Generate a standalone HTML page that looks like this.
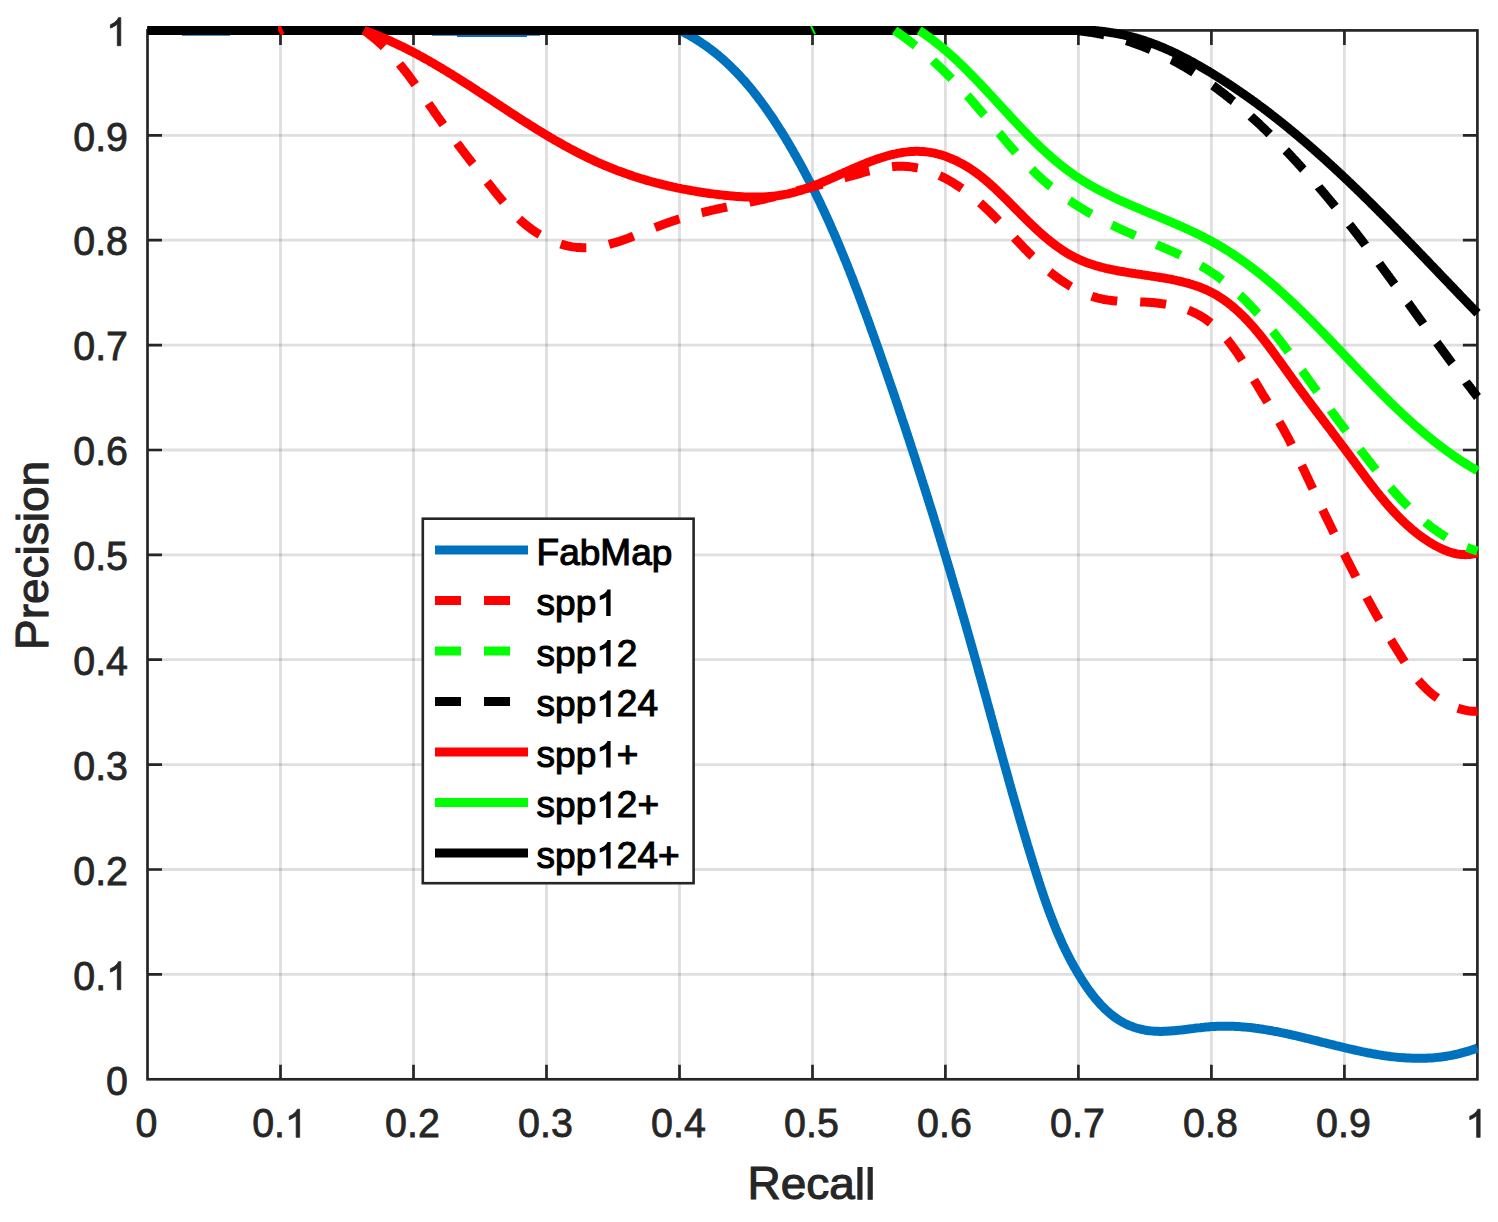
<!DOCTYPE html>
<html><head><meta charset="utf-8"><style>
html,body{margin:0;padding:0;background:#fff;width:1498px;height:1222px;overflow:hidden}
text{font-family:"Liberation Sans",sans-serif}
</style></head><body>
<svg width="1498" height="1222" viewBox="0 0 1498 1222" style="position:absolute;left:0;top:0">
<rect x="0" y="0" width="1498" height="1222" fill="#fff"/>
<path d="M280.5,30.4V1079.3 M413.5,30.4V1079.3 M546.5,30.4V1079.3 M679.5,30.4V1079.3 M812.5,30.4V1079.3 M945.4,30.4V1079.3 M1078.4,30.4V1079.3 M1211.4,30.4V1079.3 M1344.4,30.4V1079.3" stroke="#262626" stroke-opacity="0.15" stroke-width="2.8" fill="none"/>
<path d="M147.5,974.4H1477.4 M147.5,869.5H1477.4 M147.5,764.6H1477.4 M147.5,659.7H1477.4 M147.5,554.9H1477.4 M147.5,450.0H1477.4 M147.5,345.1H1477.4 M147.5,240.2H1477.4 M147.5,135.3H1477.4" stroke="#262626" stroke-opacity="0.15" stroke-width="2.8" fill="none"/>
<path d="M280.5,1079.3v-14.5 M280.5,30.4v14.5 M147.5,974.4h14.5 M1477.4,974.4h-14.5 M413.5,1079.3v-14.5 M413.5,30.4v14.5 M147.5,869.5h14.5 M1477.4,869.5h-14.5 M546.5,1079.3v-14.5 M546.5,30.4v14.5 M147.5,764.6h14.5 M1477.4,764.6h-14.5 M679.5,1079.3v-14.5 M679.5,30.4v14.5 M147.5,659.7h14.5 M1477.4,659.7h-14.5 M812.5,1079.3v-14.5 M812.5,30.4v14.5 M147.5,554.9h14.5 M1477.4,554.9h-14.5 M945.4,1079.3v-14.5 M945.4,30.4v14.5 M147.5,450.0h14.5 M1477.4,450.0h-14.5 M1078.4,1079.3v-14.5 M1078.4,30.4v14.5 M147.5,345.1h14.5 M1477.4,345.1h-14.5 M1211.4,1079.3v-14.5 M1211.4,30.4v14.5 M147.5,240.2h14.5 M1477.4,240.2h-14.5 M1344.4,1079.3v-14.5 M1344.4,30.4v14.5 M147.5,135.3h14.5 M1477.4,135.3h-14.5" stroke="#262626" stroke-width="2.7" fill="none"/>
<rect x="147.5" y="30.4" width="1329.9" height="1048.9" stroke="#262626" stroke-width="2.7" fill="none"/>
<path d="M182,34.7h48v1.1h-48Z M432,34.7h108v1.1h-108Z M457,34.7h70v2.2h-70Z" fill="#0072BD"/>
<path d="M147.5,30.4 L680.0,30.4 L680.0,30.5 L681.7,31.3 L683.3,32.1 L685.0,33.0 L686.6,33.9 L688.3,34.7 L689.9,35.6 L691.5,36.6 L693.1,37.5 L694.7,38.4 L696.2,39.4 L697.8,40.4 L699.3,41.4 L700.9,42.4 L702.4,43.4 L703.9,44.4 L705.4,45.4 L706.9,46.5 L708.3,47.6 L709.8,48.7 L711.3,49.8 L712.7,50.9 L714.1,52.0 L715.6,53.1 L717.0,54.3 L718.4,55.4 L719.8,56.6 L721.2,57.8 L722.5,59.0 L723.9,60.2 L725.2,61.4 L726.6,62.6 L727.9,63.9 L729.2,65.1 L730.5,66.4 L731.9,67.7 L733.1,69.0 L734.4,70.2 L735.7,71.5 L737.0,72.9 L738.2,74.2 L739.5,75.5 L740.7,76.9 L741.9,78.2 L743.2,79.6 L744.4,80.9 L745.6,82.3 L746.8,83.7 L748.0,85.1 L749.2,86.5 L750.3,87.9 L751.5,89.3 L752.7,90.8 L753.8,92.2 L754.9,93.6 L756.1,95.1 L757.2,96.5 L758.3,98.0 L759.4,99.5 L760.5,100.9 L761.6,102.4 L762.7,103.9 L763.8,105.4 L764.9,106.9 L766.0,108.4 L767.0,109.9 L768.1,111.4 L769.1,112.9 L770.2,114.5 L771.2,116.0 L772.3,117.5 L773.3,119.1 L774.3,120.6 L775.3,122.2 L776.3,123.7 L777.3,125.3 L778.3,126.8 L779.3,128.4 L780.3,129.9 L781.3,131.5 L782.3,133.1 L783.2,134.6 L784.2,136.2 L785.2,137.8 L786.1,139.4 L787.1,141.0 L788.0,142.5 L789.0,144.1 L789.9,145.7 L790.8,147.3 L791.8,148.9 L792.7,150.5 L793.6,152.1 L794.5,153.7 L795.4,155.3 L796.3,156.9 L797.2,158.5 L798.1,160.1 L799.0,161.7 L799.9,163.3 L800.8,164.9 L801.7,166.6 L802.5,168.2 L803.4,169.8 L804.3,171.4 L805.1,173.0 L806.0,174.7 L806.8,176.3 L807.7,177.9 L808.5,179.5 L809.4,181.2 L810.2,182.8 L811.1,184.5 L811.9,186.1 L812.7,187.7 L813.5,189.4 L814.3,191.0 L815.2,192.7 L816.0,194.3 L816.8,196.0 L817.6,197.6 L818.4,199.3 L819.2,200.9 L820.0,202.6 L820.8,204.2 L821.5,205.9 L822.3,207.5 L823.1,209.2 L823.9,210.9 L824.6,212.5 L825.4,214.2 L826.2,215.9 L826.9,217.5 L827.7,219.2 L828.5,220.9 L829.2,222.6 L830.0,224.2 L830.7,225.9 L831.4,227.6 L832.2,229.3 L832.9,231.0 L833.7,232.6 L834.4,234.3 L835.1,236.0 L835.8,237.7 L836.6,239.4 L837.3,241.1 L838.0,242.8 L838.7,244.4 L839.4,246.1 L840.1,247.8 L840.8,249.5 L841.5,251.2 L842.2,252.9 L842.9,254.6 L843.6,256.3 L844.3,258.0 L845.0,259.7 L845.7,261.4 L846.4,263.1 L847.1,264.8 L847.7,266.5 L848.4,268.2 L849.1,269.9 L849.8,271.7 L850.4,273.4 L851.1,275.1 L851.8,276.8 L852.5,278.5 L853.1,280.2 L853.8,281.9 L854.4,283.6 L855.1,285.4 L855.7,287.1 L856.4,288.8 L857.1,290.5 L857.7,292.2 L858.4,293.9 L859.0,295.7 L859.6,297.4 L860.3,299.1 L860.9,300.8 L861.6,302.6 L862.2,304.3 L862.8,306.0 L863.5,307.7 L864.1,309.5 L864.7,311.2 L865.4,312.9 L866.0,314.6 L866.6,316.4 L867.3,318.1 L867.9,319.8 L868.5,321.5 L869.1,323.3 L869.8,325.0 L870.4,326.7 L871.0,328.5 L871.6,330.2 L872.2,331.9 L872.9,333.7 L873.5,335.4 L874.1,337.1 L874.7,338.9 L875.3,340.6 L875.9,342.3 L876.5,344.1 L877.2,345.8 L877.8,347.5 L878.4,349.3 L879.0,351.0 L879.6,352.7 L880.2,354.5 L880.8,356.2 L881.4,357.9 L882.0,359.7 L882.6,361.4 L883.2,363.2 L883.8,364.9 L884.4,366.6 L885.0,368.4 L885.6,370.1 L886.2,371.8 L886.8,373.6 L887.4,375.3 L888.0,377.0 L888.6,378.8 L889.2,380.5 L889.8,382.3 L890.4,384.0 L891.0,385.7 L891.6,387.5 L892.2,389.2 L892.8,391.0 L893.4,392.7 L894.0,394.4 L894.6,396.2 L895.1,397.9 L895.7,399.7 L896.3,401.4 L896.9,403.1 L897.5,404.9 L898.1,406.6 L898.7,408.4 L899.2,410.1 L899.8,411.9 L900.4,413.6 L901.0,415.3 L901.6,417.1 L902.1,418.8 L902.7,420.6 L903.3,422.3 L903.9,424.1 L904.5,425.8 L905.0,427.6 L905.6,429.3 L906.2,431.0 L906.8,432.8 L907.3,434.5 L907.9,436.3 L908.5,438.0 L909.1,439.8 L909.6,441.5 L910.2,443.3 L910.8,445.0 L911.3,446.8 L911.9,448.5 L912.5,450.3 L913.0,452.0 L913.6,453.8 L914.2,455.5 L914.7,457.2 L915.3,459.0 L915.9,460.7 L916.4,462.5 L917.0,464.2 L917.6,466.0 L918.1,467.7 L918.7,469.5 L919.2,471.2 L919.8,473.0 L920.4,474.7 L920.9,476.5 L921.5,478.2 L922.0,480.0 L922.6,481.7 L923.1,483.5 L923.7,485.2 L924.2,487.0 L924.8,488.8 L925.3,490.5 L925.9,492.3 L926.4,494.0 L927.0,495.8 L927.5,497.5 L928.1,499.3 L928.6,501.0 L929.2,502.8 L929.7,504.5 L930.3,506.3 L930.8,508.0 L931.4,509.8 L931.9,511.5 L932.5,513.3 L933.0,515.1 L933.6,516.8 L934.1,518.6 L934.6,520.3 L935.2,522.1 L935.7,523.8 L936.3,525.6 L936.8,527.3 L937.3,529.1 L937.9,530.9 L938.4,532.6 L938.9,534.4 L939.5,536.1 L940.0,537.9 L940.5,539.7 L941.1,541.4 L941.6,543.2 L942.1,544.9 L942.7,546.7 L943.2,548.4 L943.7,550.2 L944.3,552.0 L944.8,553.7 L945.3,555.5 L945.9,557.2 L946.4,559.0 L946.9,560.8 L947.4,562.5 L948.0,564.3 L948.5,566.0 L949.0,567.8 L949.5,569.6 L950.1,571.3 L950.6,573.1 L951.1,574.8 L951.6,576.6 L952.1,578.4 L952.7,580.1 L953.2,581.9 L953.7,583.7 L954.2,585.4 L954.7,587.2 L955.3,588.9 L955.8,590.7 L956.3,592.5 L956.8,594.2 L957.3,596.0 L957.8,597.8 L958.4,599.5 L958.9,601.3 L959.4,603.1 L959.9,604.8 L960.4,606.6 L960.9,608.4 L961.4,610.1 L961.9,611.9 L962.4,613.7 L963.0,615.4 L963.5,617.2 L964.0,619.0 L964.5,620.7 L965.0,622.5 L965.5,624.3 L966.0,626.0 L966.5,627.8 L967.0,629.6 L967.5,631.3 L968.0,633.1 L968.5,634.9 L969.0,636.6 L969.5,638.4 L970.0,640.2 L970.5,641.9 L971.0,643.7 L971.5,645.5 L972.0,647.2 L972.5,649.0 L973.0,650.8 L973.5,652.5 L974.0,654.3 L974.5,656.1 L975.0,657.9 L975.5,659.6 L976.0,661.4 L976.5,663.2 L977.0,664.9 L977.5,666.7 L978.0,668.5 L978.4,670.2 L978.9,672.0 L979.4,673.8 L979.9,675.6 L980.4,677.3 L980.9,679.1 L981.4,680.9 L981.9,682.7 L982.4,684.4 L982.9,686.2 L983.3,688.0 L983.8,689.7 L984.3,691.5 L984.8,693.3 L985.3,695.1 L985.8,696.8 L986.3,698.6 L986.8,700.4 L987.2,702.1 L987.7,703.9 L988.2,705.7 L988.7,707.5 L989.2,709.2 L989.7,711.0 L990.2,712.8 L990.6,714.6 L991.1,716.3 L991.6,718.1 L992.1,719.9 L992.6,721.6 L993.1,723.4 L993.6,725.2 L994.0,727.0 L994.5,728.7 L995.0,730.5 L995.5,732.3 L996.0,734.1 L996.5,735.8 L997.0,737.6 L997.5,739.4 L997.9,741.1 L998.4,742.9 L998.9,744.7 L999.4,746.5 L999.9,748.2 L1000.4,750.0 L1000.9,751.8 L1001.4,753.5 L1001.8,755.3 L1002.3,757.1 L1002.8,758.8 L1003.3,760.6 L1003.8,762.4 L1004.3,764.2 L1004.8,765.9 L1005.3,767.7 L1005.8,769.5 L1006.3,771.2 L1006.8,773.0 L1007.3,774.8 L1007.8,776.5 L1008.2,778.3 L1008.7,780.1 L1009.2,781.8 L1009.7,783.6 L1010.2,785.4 L1010.7,787.1 L1011.2,788.9 L1011.7,790.7 L1012.2,792.4 L1012.7,794.2 L1013.2,796.0 L1013.7,797.7 L1014.2,799.5 L1014.7,801.3 L1015.2,803.0 L1015.8,804.8 L1016.3,806.6 L1016.8,808.3 L1017.3,810.1 L1017.8,811.8 L1018.3,813.6 L1018.8,815.4 L1019.3,817.1 L1019.8,818.9 L1020.3,820.7 L1020.9,822.4 L1021.4,824.2 L1021.9,825.9 L1022.4,827.7 L1022.9,829.5 L1023.4,831.2 L1024.0,833.0 L1024.5,834.7 L1025.0,836.5 L1025.5,838.2 L1026.1,840.0 L1026.6,841.8 L1027.1,843.5 L1027.6,845.3 L1028.2,847.0 L1028.7,848.8 L1029.2,850.5 L1029.8,852.3 L1030.3,854.0 L1030.8,855.8 L1031.4,857.5 L1031.9,859.3 L1032.4,861.0 L1033.0,862.8 L1033.5,864.5 L1034.1,866.3 L1034.6,868.0 L1035.2,869.8 L1035.7,871.5 L1036.3,873.3 L1036.8,875.0 L1037.4,876.8 L1037.9,878.5 L1038.5,880.2 L1039.0,882.0 L1039.6,883.7 L1040.2,885.5 L1040.7,887.2 L1041.3,888.9 L1041.9,890.7 L1042.5,892.4 L1043.1,894.2 L1043.6,895.9 L1044.2,897.6 L1044.8,899.4 L1045.4,901.1 L1046.0,902.8 L1046.6,904.5 L1047.3,906.3 L1047.9,908.0 L1048.5,909.7 L1049.1,911.4 L1049.8,913.2 L1050.4,914.9 L1051.1,916.6 L1051.7,918.3 L1052.4,920.0 L1053.1,921.7 L1053.7,923.4 L1054.4,925.1 L1055.1,926.9 L1055.8,928.6 L1056.5,930.3 L1057.2,932.0 L1057.9,933.7 L1058.7,935.3 L1059.4,937.0 L1060.2,938.7 L1060.9,940.4 L1061.7,942.1 L1062.4,943.8 L1063.2,945.5 L1064.0,947.1 L1064.8,948.8 L1065.6,950.5 L1066.5,952.2 L1067.3,953.8 L1068.1,955.5 L1069.0,957.2 L1069.8,958.8 L1070.7,960.5 L1071.6,962.1 L1072.5,963.8 L1073.4,965.4 L1074.3,967.1 L1075.3,968.7 L1076.2,970.3 L1077.2,972.0 L1078.1,973.6 L1079.1,975.2 L1080.1,976.8 L1081.1,978.5 L1082.1,980.1 L1083.2,981.7 L1084.2,983.3 L1085.3,984.9 L1086.3,986.4 L1087.4,988.0 L1088.5,989.6 L1089.6,991.1 L1090.8,992.6 L1091.9,994.2 L1093.1,995.6 L1094.2,997.1 L1095.4,998.6 L1096.6,1000.0 L1097.9,1001.4 L1099.1,1002.8 L1100.3,1004.2 L1101.6,1005.6 L1102.9,1006.9 L1104.2,1008.2 L1105.5,1009.5 L1106.8,1010.7 L1108.2,1011.9 L1109.6,1013.1 L1110.9,1014.3 L1112.3,1015.4 L1113.8,1016.5 L1115.2,1017.5 L1116.6,1018.5 L1118.1,1019.5 L1119.6,1020.5 L1121.1,1021.4 L1122.6,1022.2 L1124.2,1023.1 L1125.7,1023.9 L1127.3,1024.6 L1128.9,1025.3 L1130.5,1026.0 L1132.2,1026.6 L1133.8,1027.2 L1135.5,1027.7 L1137.1,1028.2 L1138.8,1028.7 L1140.5,1029.1 L1142.2,1029.5 L1143.9,1029.9 L1145.7,1030.2 L1147.4,1030.5 L1149.1,1030.7 L1150.9,1030.9 L1152.7,1031.1 L1154.4,1031.2 L1156.2,1031.3 L1158.0,1031.3 L1159.8,1031.4 L1161.6,1031.4 L1163.4,1031.3 L1165.2,1031.3 L1167.0,1031.2 L1168.9,1031.1 L1170.7,1031.0 L1172.5,1030.8 L1174.4,1030.7 L1176.2,1030.5 L1178.1,1030.3 L1179.9,1030.1 L1181.8,1029.9 L1183.6,1029.7 L1185.5,1029.5 L1187.3,1029.3 L1189.2,1029.0 L1191.1,1028.8 L1192.9,1028.6 L1194.8,1028.3 L1196.7,1028.1 L1198.5,1027.9 L1200.4,1027.7 L1202.3,1027.4 L1204.1,1027.3 L1206.0,1027.1 L1207.9,1026.9 L1209.7,1026.7 L1211.6,1026.6 L1213.4,1026.5 L1215.3,1026.4 L1217.2,1026.3 L1219.0,1026.2 L1220.9,1026.2 L1222.7,1026.2 L1224.6,1026.2 L1226.4,1026.2 L1228.2,1026.2 L1230.1,1026.2 L1231.9,1026.3 L1233.8,1026.3 L1235.6,1026.4 L1237.4,1026.5 L1239.3,1026.6 L1241.1,1026.8 L1242.9,1026.9 L1244.8,1027.1 L1246.6,1027.2 L1248.4,1027.4 L1250.3,1027.6 L1252.1,1027.8 L1253.9,1028.0 L1255.7,1028.3 L1257.6,1028.5 L1259.4,1028.8 L1261.2,1029.0 L1263.0,1029.3 L1264.8,1029.6 L1266.6,1029.9 L1268.5,1030.2 L1270.3,1030.5 L1272.1,1030.8 L1273.9,1031.2 L1275.7,1031.5 L1277.5,1031.8 L1279.3,1032.2 L1281.1,1032.6 L1282.9,1032.9 L1284.7,1033.3 L1286.5,1033.7 L1288.3,1034.1 L1290.1,1034.5 L1291.9,1034.9 L1293.7,1035.3 L1295.5,1035.7 L1297.3,1036.1 L1299.1,1036.5 L1300.9,1037.0 L1302.7,1037.4 L1304.5,1037.8 L1306.3,1038.3 L1308.1,1038.7 L1309.9,1039.1 L1311.7,1039.6 L1313.5,1040.0 L1315.3,1040.5 L1317.1,1040.9 L1318.9,1041.4 L1320.6,1041.8 L1322.4,1042.3 L1324.2,1042.7 L1326.0,1043.1 L1327.8,1043.6 L1329.6,1044.0 L1331.4,1044.5 L1333.2,1044.9 L1335.0,1045.4 L1336.7,1045.8 L1338.5,1046.2 L1340.3,1046.7 L1342.1,1047.1 L1343.9,1047.5 L1345.7,1048.0 L1347.5,1048.4 L1349.2,1048.8 L1351.0,1049.2 L1352.8,1049.6 L1354.6,1050.0 L1356.4,1050.4 L1358.2,1050.8 L1360.0,1051.2 L1361.8,1051.6 L1363.5,1051.9 L1365.3,1052.3 L1367.1,1052.7 L1368.9,1053.0 L1370.7,1053.3 L1372.5,1053.7 L1374.3,1054.0 L1376.1,1054.3 L1377.8,1054.6 L1379.6,1054.9 L1381.4,1055.2 L1383.2,1055.5 L1385.0,1055.7 L1386.8,1056.0 L1388.6,1056.2 L1390.4,1056.5 L1392.2,1056.7 L1394.0,1056.9 L1395.8,1057.1 L1397.6,1057.3 L1399.3,1057.4 L1401.1,1057.6 L1402.9,1057.7 L1404.7,1057.8 L1406.5,1058.0 L1408.3,1058.1 L1410.1,1058.1 L1411.9,1058.2 L1413.7,1058.3 L1415.5,1058.3 L1417.3,1058.3 L1419.1,1058.3 L1420.9,1058.3 L1422.8,1058.3 L1424.6,1058.2 L1426.4,1058.2 L1428.2,1058.1 L1430.0,1058.0 L1431.8,1057.9 L1433.6,1057.8 L1435.4,1057.6 L1437.2,1057.4 L1439.1,1057.2 L1440.9,1057.0 L1442.7,1056.8 L1444.5,1056.5 L1446.3,1056.2 L1448.2,1055.9 L1450.0,1055.6 L1451.8,1055.3 L1453.6,1054.9 L1455.5,1054.5 L1457.3,1054.1 L1459.1,1053.7 L1460.9,1053.2 L1462.8,1052.7 L1464.6,1052.2 L1466.5,1051.7 L1468.3,1051.2 L1470.1,1050.6 L1472.0,1050.0 L1473.8,1049.3 L1475.7,1048.7 L1477.5,1048.0" stroke="#0072BD" stroke-width="9" fill="none" stroke-linejoin="round"/>
<path d="M147.5,30.4 L1040.0,30.4 L1040.0,30.4 L1040.8,30.4 L1041.5,30.4 L1042.3,30.4 L1043.1,30.4 L1043.9,30.4 L1044.7,30.4 L1045.4,30.4 L1046.2,30.4 L1047.0,30.4 L1047.8,30.4 L1048.5,30.4 L1049.3,30.4 L1050.1,30.4 L1050.9,30.4 L1051.6,30.4 L1052.4,30.4 L1053.2,30.4 L1054.0,30.4 L1054.7,30.4 L1055.5,30.4 L1056.3,30.4 L1057.0,30.4 L1057.8,30.4 L1058.6,30.4 L1059.3,30.4 L1060.1,30.4 L1060.9,30.4 L1061.6,30.4 L1062.4,30.4 L1063.1,30.4 L1063.9,30.4 L1064.7,30.4 L1065.4,30.4 L1066.2,30.4 L1066.9,30.4 L1067.7,30.4 L1068.5,30.4 L1069.2,30.4 L1070.0,30.4 L1070.7,30.4 L1071.5,30.4 L1072.2,30.4 L1073.0,30.4 L1073.7,30.4 L1074.5,30.5 L1075.2,30.5 L1076.0,30.6 L1076.7,30.7 L1077.5,30.7 L1078.2,30.8 L1079.0,30.9 L1079.7,31.0 L1080.5,31.0 L1081.2,31.1 L1082.0,31.2 L1082.7,31.3 L1083.4,31.4 L1084.2,31.5 L1084.9,31.6 L1085.7,31.7 L1086.4,31.7 L1087.2,31.8 L1087.9,32.0 L1088.6,32.1 L1089.4,32.2 L1090.1,32.3 L1090.8,32.4 L1091.6,32.5 L1092.3,32.6 L1093.0,32.7 L1093.8,32.9 L1094.5,33.0 L1095.2,33.1 L1096.0,33.2 L1096.7,33.4 L1097.4,33.5 L1098.2,33.6 L1098.9,33.8 L1099.6,33.9 L1100.3,34.0 L1101.1,34.2 L1101.8,34.3 L1102.5,34.5 L1103.2,34.6 L1104.0,34.8 L1104.7,34.9 L1105.4,35.1 L1106.1,35.2 L1106.8,35.4 L1107.6,35.6 L1108.3,35.7 L1109.0,35.9 L1109.7,36.1 L1110.4,36.2 L1111.1,36.4 L1111.8,36.6 L1112.6,36.8 L1113.3,37.0 L1114.0,37.1 L1114.7,37.3 L1115.4,37.5 L1116.1,37.7 L1116.8,37.9 L1117.5,38.1 L1118.2,38.3 L1118.9,38.5 L1119.7,38.7 L1120.4,38.9 L1121.1,39.1 L1121.8,39.3 L1122.5,39.5 L1123.2,39.7 L1123.9,39.9 L1124.6,40.1 L1125.3,40.3 L1126.0,40.6 L1126.7,40.8 L1127.4,41.0 L1128.1,41.2 L1128.8,41.5 L1129.5,41.7 L1130.2,41.9 L1130.8,42.1 L1131.5,42.4 L1132.2,42.6 L1132.9,42.9 L1133.6,43.1 L1134.3,43.3 L1135.0,43.6 L1135.7,43.8 L1136.4,44.1 L1137.1,44.3 L1137.7,44.6 L1138.4,44.8 L1139.1,45.1 L1139.8,45.3 L1140.5,45.6 L1141.2,45.9 L1141.8,46.1 L1142.5,46.4 L1143.2,46.7 L1143.9,46.9 L1144.6,47.2 L1145.2,47.5 L1145.9,47.7 L1146.6,48.0 L1147.3,48.3 L1147.9,48.6 L1148.6,48.9 L1149.3,49.1 L1150.0,49.4 L1150.6,49.7 L1151.3,50.0 L1152.0,50.3 L1152.7,50.6 L1153.3,50.9 L1154.0,51.2 L1154.7,51.5 L1155.3,51.8 L1156.0,52.1 L1156.7,52.4 L1157.3,52.7 L1158.0,53.0 L1158.6,53.3 L1159.3,53.6 L1160.0,53.9 L1160.6,54.2 L1161.3,54.5 L1161.9,54.8 L1162.6,55.2 L1163.3,55.5 L1163.9,55.8 L1164.6,56.1 L1165.2,56.5 L1165.9,56.8 L1166.5,57.1 L1167.2,57.4 L1167.9,57.8 L1168.5,58.1 L1169.2,58.4 L1169.8,58.8 L1170.5,59.1 L1171.1,59.5 L1171.8,59.8 L1172.4,60.1 L1173.0,60.5 L1173.7,60.8 L1174.3,61.2 L1175.0,61.5 L1175.6,61.9 L1176.3,62.2 L1176.9,62.6 L1177.6,62.9 L1178.2,63.3 L1178.8,63.7 L1179.5,64.0 L1180.1,64.4 L1180.8,64.7 L1181.4,65.1 L1182.0,65.5 L1182.7,65.8 L1183.3,66.2 L1183.9,66.6 L1184.6,66.9 L1185.2,67.3 L1185.8,67.7 L1186.5,68.1 L1187.1,68.5 L1187.7,68.8 L1188.4,69.2 L1189.0,69.6 L1189.6,70.0 L1190.2,70.4 L1190.9,70.8 L1191.5,71.1 L1192.1,71.5 L1192.7,71.9 L1193.4,72.3 L1194.0,72.7 L1194.6,73.1 L1195.2,73.5 L1195.9,73.9 L1196.5,74.3 L1197.1,74.7 L1197.7,75.1 L1198.3,75.5 L1198.9,75.9 L1199.6,76.3 L1200.2,76.7 L1200.8,77.1 L1201.4,77.5 L1202.0,78.0 L1202.6,78.4 L1203.3,78.8 L1203.9,79.2 L1204.5,79.6 L1205.1,80.0 L1205.7,80.5 L1206.3,80.9 L1206.9,81.3 L1207.5,81.7 L1208.1,82.1 L1208.7,82.6 L1209.3,83.0 L1210.0,83.4 L1210.6,83.9 L1211.2,84.3 L1211.8,84.7 L1212.4,85.2 L1213.0,85.6 L1213.6,86.0 L1214.2,86.5 L1214.8,86.9 L1215.4,87.3 L1216.0,87.8 L1216.6,88.2 L1217.2,88.7 L1217.8,89.1 L1218.4,89.6 L1219.0,90.0 L1219.5,90.5 L1220.1,90.9 L1220.7,91.4 L1221.3,91.8 L1221.9,92.3 L1222.5,92.7 L1223.1,93.2 L1223.7,93.6 L1224.3,94.1 L1224.9,94.5 L1225.5,95.0 L1226.0,95.5 L1226.6,95.9 L1227.2,96.4 L1227.8,96.8 L1228.4,97.3 L1229.0,97.8 L1229.6,98.2 L1230.1,98.7 L1230.7,99.2 L1231.3,99.6 L1231.9,100.1 L1232.5,100.6 L1233.0,101.1 L1233.6,101.5 L1234.2,102.0 L1234.8,102.5 L1235.4,103.0 L1235.9,103.4 L1236.5,103.9 L1237.1,104.4 L1237.7,104.9 L1238.2,105.4 L1238.8,105.8 L1239.4,106.3 L1239.9,106.8 L1240.5,107.3 L1241.1,107.8 L1241.7,108.3 L1242.2,108.8 L1242.8,109.3 L1243.4,109.7 L1243.9,110.2 L1244.5,110.7 L1245.1,111.2 L1245.6,111.7 L1246.2,112.2 L1246.8,112.7 L1247.3,113.2 L1247.9,113.7 L1248.4,114.2 L1249.0,114.7 L1249.6,115.2 L1250.1,115.7 L1250.7,116.2 L1251.2,116.7 L1251.8,117.2 L1252.4,117.7 L1252.9,118.2 L1253.5,118.7 L1254.0,119.2 L1254.6,119.7 L1255.1,120.3 L1255.7,120.8 L1256.3,121.3 L1256.8,121.8 L1257.4,122.3 L1257.9,122.8 L1258.5,123.3 L1259.0,123.8 L1259.6,124.4 L1260.1,124.9 L1260.7,125.4 L1261.2,125.9 L1261.8,126.4 L1262.3,126.9 L1262.8,127.5 L1263.4,128.0 L1263.9,128.5 L1264.5,129.0 L1265.0,129.5 L1265.6,130.1 L1266.1,130.6 L1266.7,131.1 L1267.2,131.6 L1267.7,132.2 L1268.3,132.7 L1268.8,133.2 L1269.4,133.8 L1269.9,134.3 L1270.4,134.8 L1271.0,135.3 L1271.5,135.9 L1272.0,136.4 L1272.6,136.9 L1273.1,137.5 L1273.6,138.0 L1274.2,138.5 L1274.7,139.1 L1275.2,139.6 L1275.8,140.1 L1276.3,140.7 L1276.8,141.2 L1277.4,141.7 L1277.9,142.3 L1278.4,142.8 L1279.0,143.4 L1279.5,143.9 L1280.0,144.4 L1280.5,145.0 L1281.1,145.5 L1281.6,146.1 L1282.1,146.6 L1282.6,147.1 L1283.2,147.7 L1283.7,148.2 L1284.2,148.8 L1284.7,149.3 L1285.3,149.9 L1285.8,150.4 L1286.3,150.9 L1286.8,151.5 L1287.3,152.0 L1287.8,152.6 L1288.4,153.1 L1288.9,153.7 L1289.4,154.2 L1289.9,154.8 L1290.4,155.3 L1290.9,155.9 L1291.5,156.4 L1292.0,157.0 L1292.5,157.5 L1293.0,158.1 L1293.5,158.6 L1294.0,159.2 L1294.5,159.7 L1295.1,160.3 L1295.6,160.8 L1296.1,161.4 L1296.6,161.9 L1297.1,162.5 L1297.6,163.1 L1298.1,163.6 L1298.6,164.2 L1299.1,164.7 L1299.6,165.3 L1300.1,165.8 L1300.6,166.4 L1301.1,166.9 L1301.6,167.5 L1302.1,168.1 L1302.6,168.6 L1303.1,169.2 L1303.6,169.7 L1304.1,170.3 L1304.7,170.9 L1305.2,171.4 L1305.6,172.0 L1306.1,172.5 L1306.6,173.1 L1307.1,173.7 L1307.6,174.2 L1308.1,174.8 L1308.6,175.3 L1309.1,175.9 L1309.6,176.5 L1310.1,177.0 L1310.6,177.6 L1311.1,178.2 L1311.6,178.7 L1312.1,179.3 L1312.6,179.8 L1313.1,180.4 L1313.6,181.0 L1314.1,181.5 L1314.6,182.1 L1315.0,182.7 L1315.5,183.2 L1316.0,183.8 L1316.5,184.4 L1317.0,184.9 L1317.5,185.5 L1318.0,186.1 L1318.5,186.6 L1318.9,187.2 L1319.4,187.8 L1319.9,188.4 L1320.4,188.9 L1320.9,189.5 L1321.4,190.1 L1321.9,190.6 L1322.3,191.2 L1322.8,191.8 L1323.3,192.4 L1323.8,192.9 L1324.3,193.5 L1324.8,194.1 L1325.2,194.6 L1325.7,195.2 L1326.2,195.8 L1326.7,196.4 L1327.2,196.9 L1327.6,197.5 L1328.1,198.1 L1328.6,198.7 L1329.1,199.2 L1329.5,199.8 L1330.0,200.4 L1330.5,201.0 L1331.0,201.5 L1331.4,202.1 L1331.9,202.7 L1332.4,203.3 L1332.9,203.8 L1333.3,204.4 L1333.8,205.0 L1334.3,205.6 L1334.8,206.2 L1335.2,206.7 L1335.7,207.3 L1336.2,207.9 L1336.6,208.5 L1337.1,209.1 L1337.6,209.6 L1338.1,210.2 L1338.5,210.8 L1339.0,211.4 L1339.5,212.0 L1339.9,212.5 L1340.4,213.1 L1340.9,213.7 L1341.3,214.3 L1341.8,214.9 L1342.3,215.4 L1342.7,216.0 L1343.2,216.6 L1343.7,217.2 L1344.1,217.8 L1344.6,218.4 L1345.1,218.9 L1345.5,219.5 L1346.0,220.1 L1346.5,220.7 L1346.9,221.3 L1347.4,221.9 L1347.8,222.5 L1348.3,223.0 L1348.8,223.6 L1349.2,224.2 L1349.7,224.8 L1350.1,225.4 L1350.6,226.0 L1351.1,226.6 L1351.5,227.1 L1352.0,227.7 L1352.4,228.3 L1352.9,228.9 L1353.4,229.5 L1353.8,230.1 L1354.3,230.7 L1354.7,231.3 L1355.2,231.8 L1355.7,232.4 L1356.1,233.0 L1356.6,233.6 L1357.0,234.2 L1357.5,234.8 L1357.9,235.4 L1358.4,236.0 L1358.8,236.6 L1359.3,237.1 L1359.8,237.7 L1360.2,238.3 L1360.7,238.9 L1361.1,239.5 L1361.6,240.1 L1362.0,240.7 L1362.5,241.3 L1362.9,241.9 L1363.4,242.5 L1363.8,243.1 L1364.3,243.7 L1364.7,244.2 L1365.2,244.8 L1365.6,245.4 L1366.1,246.0 L1366.5,246.6 L1367.0,247.2 L1367.4,247.8 L1367.9,248.4 L1368.3,249.0 L1368.8,249.6 L1369.2,250.2 L1369.7,250.8 L1370.1,251.4 L1370.6,252.0 L1371.0,252.6 L1371.5,253.2 L1371.9,253.7 L1372.4,254.3 L1372.8,254.9 L1373.3,255.5 L1373.7,256.1 L1374.2,256.7 L1374.6,257.3 L1375.1,257.9 L1375.5,258.5 L1376.0,259.1 L1376.4,259.7 L1376.8,260.3 L1377.3,260.9 L1377.7,261.5 L1378.2,262.1 L1378.6,262.7 L1379.1,263.3 L1379.5,263.9 L1380.0,264.5 L1380.4,265.1 L1380.9,265.7 L1381.3,266.3 L1381.7,266.9 L1382.2,267.5 L1382.6,268.1 L1383.1,268.7 L1383.5,269.3 L1384.0,269.9 L1384.4,270.5 L1384.8,271.1 L1385.3,271.7 L1385.7,272.3 L1386.2,272.9 L1386.6,273.5 L1387.1,274.1 L1387.5,274.7 L1387.9,275.3 L1388.4,275.9 L1388.8,276.5 L1389.3,277.1 L1389.7,277.7 L1390.1,278.3 L1390.6,278.9 L1391.0,279.5 L1391.5,280.1 L1391.9,280.7 L1392.3,281.3 L1392.8,281.9 L1393.2,282.5 L1393.7,283.1 L1394.1,283.7 L1394.5,284.3 L1395.0,284.9 L1395.4,285.5 L1395.9,286.1 L1396.3,286.7 L1396.7,287.3 L1397.2,287.9 L1397.6,288.5 L1398.1,289.1 L1398.5,289.7 L1398.9,290.3 L1399.4,290.9 L1399.8,291.5 L1400.2,292.1 L1400.7,292.7 L1401.1,293.3 L1401.6,293.9 L1402.0,294.5 L1402.4,295.1 L1402.9,295.7 L1403.3,296.3 L1403.7,296.9 L1404.2,297.5 L1404.6,298.1 L1405.1,298.7 L1405.5,299.3 L1405.9,299.9 L1406.4,300.5 L1406.8,301.1 L1407.2,301.7 L1407.7,302.3 L1408.1,302.9 L1408.6,303.5 L1409.0,304.1 L1409.4,304.7 L1409.9,305.3 L1410.3,305.9 L1410.7,306.5 L1411.2,307.1 L1411.6,307.7 L1412.1,308.3 L1412.5,308.9 L1412.9,309.5 L1413.4,310.1 L1413.8,310.7 L1414.2,311.3 L1414.7,311.9 L1415.1,312.6 L1415.5,313.2 L1416.0,313.8 L1416.4,314.4 L1416.9,315.0 L1417.3,315.6 L1417.7,316.2 L1418.2,316.8 L1418.6,317.4 L1419.0,318.0 L1419.5,318.6 L1419.9,319.2 L1420.3,319.8 L1420.8,320.4 L1421.2,321.0 L1421.7,321.6 L1422.1,322.2 L1422.5,322.8 L1423.0,323.4 L1423.4,324.0 L1423.8,324.6 L1424.3,325.2 L1424.7,325.8 L1425.2,326.4 L1425.6,327.0 L1426.0,327.6 L1426.5,328.2 L1426.9,328.8 L1427.3,329.4 L1427.8,330.0 L1428.2,330.6 L1428.6,331.2 L1429.1,331.8 L1429.5,332.4 L1430.0,333.0 L1430.4,333.6 L1430.8,334.2 L1431.3,334.9 L1431.7,335.5 L1432.1,336.1 L1432.6,336.7 L1433.0,337.3 L1433.5,337.9 L1433.9,338.5 L1434.3,339.1 L1434.8,339.7 L1435.2,340.3 L1435.6,340.9 L1436.1,341.5 L1436.5,342.1 L1437.0,342.7 L1437.4,343.3 L1437.8,343.9 L1438.3,344.5 L1438.7,345.1 L1439.2,345.7 L1439.6,346.3 L1440.0,346.9 L1440.5,347.5 L1440.9,348.1 L1441.4,348.7 L1441.8,349.3 L1442.2,349.9 L1442.7,350.5 L1443.1,351.1 L1443.6,351.7 L1444.0,352.3 L1444.4,352.9 L1444.9,353.5 L1445.3,354.1 L1445.8,354.7 L1446.2,355.3 L1446.6,355.9 L1447.1,356.5 L1447.5,357.1 L1448.0,357.7 L1448.4,358.3 L1448.8,358.9 L1449.3,359.5 L1449.7,360.1 L1450.2,360.7 L1450.6,361.3 L1451.1,361.9 L1451.5,362.5 L1451.9,363.1 L1452.4,363.7 L1452.8,364.3 L1453.3,364.9 L1453.7,365.5 L1454.2,366.1 L1454.6,366.7 L1455.0,367.3 L1455.5,367.9 L1455.9,368.5 L1456.4,369.1 L1456.8,369.7 L1457.3,370.3 L1457.7,370.9 L1458.2,371.5 L1458.6,372.1 L1459.0,372.7 L1459.5,373.2 L1459.9,373.8 L1460.4,374.4 L1460.8,375.0 L1461.3,375.6 L1461.7,376.2 L1462.2,376.8 L1462.6,377.4 L1463.1,378.0 L1463.5,378.6 L1464.0,379.2 L1464.4,379.8 L1464.9,380.4 L1465.3,381.0 L1465.8,381.6 L1466.2,382.2 L1466.6,382.8 L1467.1,383.4 L1467.5,384.0 L1468.0,384.6 L1468.4,385.2 L1468.9,385.7 L1469.3,386.3 L1469.8,386.9 L1470.3,387.5 L1470.7,388.1 L1471.2,388.7 L1471.6,389.3 L1472.1,389.9 L1472.5,390.5 L1473.0,391.1 L1473.4,391.7 L1473.9,392.3 L1474.3,392.9 L1474.8,393.5 L1475.2,394.0 L1475.7,394.6 L1476.1,395.2 L1476.6,395.8 L1477.0,396.4 L1477.5,397.0" stroke="#000000" stroke-width="9" fill="none" stroke-linejoin="round" stroke-dasharray="26 23"/>
<path d="M147.5,30.4 L1050.0,30.4 L1050.0,30.4 L1050.7,30.4 L1051.3,30.4 L1052.0,30.4 L1052.6,30.4 L1053.3,30.4 L1054.0,30.4 L1054.6,30.4 L1055.3,30.4 L1056.0,30.4 L1056.6,30.4 L1057.3,30.4 L1058.0,30.4 L1058.6,30.4 L1059.3,30.4 L1059.9,30.4 L1060.6,30.4 L1061.3,30.4 L1061.9,30.4 L1062.6,30.4 L1063.3,30.4 L1063.9,30.4 L1064.6,30.4 L1065.3,30.4 L1065.9,30.4 L1066.6,30.4 L1067.3,30.4 L1067.9,30.4 L1068.6,30.4 L1069.3,30.4 L1069.9,30.4 L1070.6,30.4 L1071.3,30.4 L1071.9,30.4 L1072.6,30.4 L1073.3,30.4 L1073.9,30.4 L1074.6,30.4 L1075.3,30.4 L1075.9,30.4 L1076.6,30.4 L1077.3,30.4 L1077.9,30.4 L1078.6,30.4 L1079.3,30.4 L1079.9,30.4 L1080.6,30.4 L1081.3,30.4 L1082.0,30.4 L1082.6,30.4 L1083.3,30.4 L1084.0,30.4 L1084.6,30.4 L1085.3,30.4 L1085.9,30.4 L1086.6,30.4 L1087.3,30.4 L1087.9,30.4 L1088.6,30.4 L1089.3,30.4 L1089.9,30.4 L1090.6,30.4 L1091.3,30.4 L1091.9,30.4 L1092.6,30.4 L1093.3,30.5 L1093.9,30.5 L1094.6,30.6 L1095.3,30.6 L1095.9,30.7 L1096.6,30.8 L1097.3,30.8 L1097.9,30.9 L1098.6,31.0 L1099.2,31.0 L1099.9,31.1 L1100.6,31.2 L1101.2,31.2 L1101.9,31.3 L1102.5,31.4 L1103.2,31.5 L1103.9,31.6 L1104.5,31.6 L1105.2,31.7 L1105.8,31.8 L1106.5,31.9 L1107.2,32.0 L1107.8,32.1 L1108.5,32.2 L1109.1,32.3 L1109.8,32.4 L1110.4,32.5 L1111.1,32.6 L1111.8,32.7 L1112.4,32.8 L1113.1,32.9 L1113.7,33.0 L1114.4,33.1 L1115.0,33.2 L1115.7,33.4 L1116.3,33.5 L1117.0,33.6 L1117.6,33.7 L1118.3,33.8 L1118.9,34.0 L1119.6,34.1 L1120.2,34.2 L1120.9,34.3 L1121.5,34.5 L1122.2,34.6 L1122.8,34.8 L1123.5,34.9 L1124.1,35.0 L1124.8,35.2 L1125.4,35.3 L1126.1,35.5 L1126.7,35.6 L1127.3,35.8 L1128.0,35.9 L1128.6,36.1 L1129.3,36.2 L1129.9,36.4 L1130.6,36.6 L1131.2,36.7 L1131.8,36.9 L1132.5,37.1 L1133.1,37.2 L1133.7,37.4 L1134.4,37.6 L1135.0,37.8 L1135.6,37.9 L1136.3,38.1 L1136.9,38.3 L1137.5,38.5 L1138.2,38.7 L1138.8,38.9 L1139.4,39.0 L1140.1,39.2 L1140.7,39.4 L1141.3,39.6 L1142.0,39.8 L1142.6,40.0 L1143.2,40.2 L1143.8,40.4 L1144.5,40.6 L1145.1,40.8 L1145.7,41.1 L1146.3,41.3 L1147.0,41.5 L1147.6,41.7 L1148.2,41.9 L1148.8,42.1 L1149.4,42.4 L1150.1,42.6 L1150.7,42.8 L1151.3,43.0 L1151.9,43.2 L1152.5,43.5 L1153.2,43.7 L1153.8,43.9 L1154.4,44.2 L1155.0,44.4 L1155.6,44.6 L1156.2,44.9 L1156.9,45.1 L1157.5,45.4 L1158.1,45.6 L1158.7,45.9 L1159.3,46.1 L1159.9,46.4 L1160.5,46.6 L1161.1,46.9 L1161.7,47.1 L1162.4,47.4 L1163.0,47.6 L1163.6,47.9 L1164.2,48.1 L1164.8,48.4 L1165.4,48.7 L1166.0,48.9 L1166.6,49.2 L1167.2,49.5 L1167.8,49.7 L1168.4,50.0 L1169.0,50.3 L1169.6,50.5 L1170.2,50.8 L1170.8,51.1 L1171.4,51.4 L1172.0,51.6 L1172.6,51.9 L1173.2,52.2 L1173.8,52.5 L1174.4,52.8 L1175.0,53.0 L1175.6,53.3 L1176.2,53.6 L1176.8,53.9 L1177.4,54.2 L1178.0,54.5 L1178.6,54.8 L1179.2,55.1 L1179.8,55.4 L1180.3,55.7 L1180.9,56.0 L1181.5,56.3 L1182.1,56.6 L1182.7,56.9 L1183.3,57.2 L1183.9,57.5 L1184.5,57.8 L1185.1,58.1 L1185.7,58.4 L1186.2,58.7 L1186.8,59.0 L1187.4,59.3 L1188.0,59.6 L1188.6,59.9 L1189.2,60.2 L1189.8,60.6 L1190.3,60.9 L1190.9,61.2 L1191.5,61.5 L1192.1,61.8 L1192.7,62.1 L1193.2,62.5 L1193.8,62.8 L1194.4,63.1 L1195.0,63.4 L1195.6,63.8 L1196.1,64.1 L1196.7,64.4 L1197.3,64.7 L1197.9,65.1 L1198.5,65.4 L1199.0,65.7 L1199.6,66.0 L1200.2,66.4 L1200.8,66.7 L1201.3,67.0 L1201.9,67.4 L1202.5,67.7 L1203.0,68.0 L1203.6,68.4 L1204.2,68.7 L1204.8,69.0 L1205.3,69.4 L1205.9,69.7 L1206.5,70.1 L1207.0,70.4 L1207.6,70.7 L1208.2,71.1 L1208.8,71.4 L1209.3,71.8 L1209.9,72.1 L1210.5,72.5 L1211.0,72.8 L1211.6,73.1 L1212.2,73.5 L1212.7,73.8 L1213.3,74.2 L1213.8,74.5 L1214.4,74.9 L1215.0,75.2 L1215.5,75.6 L1216.1,75.9 L1216.7,76.3 L1217.2,76.6 L1217.8,77.0 L1218.3,77.3 L1218.9,77.7 L1219.5,78.0 L1220.0,78.4 L1220.6,78.7 L1221.1,79.1 L1221.7,79.5 L1222.3,79.8 L1222.8,80.2 L1223.4,80.5 L1223.9,80.9 L1224.5,81.3 L1225.0,81.6 L1225.6,82.0 L1226.2,82.3 L1226.7,82.7 L1227.3,83.1 L1227.8,83.4 L1228.4,83.8 L1228.9,84.1 L1229.5,84.5 L1230.0,84.9 L1230.6,85.2 L1231.1,85.6 L1231.7,86.0 L1232.2,86.3 L1232.8,86.7 L1233.3,87.1 L1233.9,87.4 L1234.4,87.8 L1235.0,88.2 L1235.5,88.5 L1236.1,88.9 L1236.6,89.3 L1237.2,89.7 L1237.7,90.0 L1238.3,90.4 L1238.8,90.8 L1239.4,91.2 L1239.9,91.5 L1240.5,91.9 L1241.0,92.3 L1241.5,92.7 L1242.1,93.0 L1242.6,93.4 L1243.2,93.8 L1243.7,94.2 L1244.3,94.5 L1244.8,94.9 L1245.3,95.3 L1245.9,95.7 L1246.4,96.1 L1247.0,96.5 L1247.5,96.8 L1248.0,97.2 L1248.6,97.6 L1249.1,98.0 L1249.7,98.4 L1250.2,98.8 L1250.7,99.1 L1251.3,99.5 L1251.8,99.9 L1252.3,100.3 L1252.9,100.7 L1253.4,101.1 L1253.9,101.5 L1254.5,101.8 L1255.0,102.2 L1255.5,102.6 L1256.1,103.0 L1256.6,103.4 L1257.2,103.8 L1257.7,104.2 L1258.2,104.6 L1258.7,105.0 L1259.3,105.4 L1259.8,105.8 L1260.3,106.2 L1260.9,106.6 L1261.4,106.9 L1261.9,107.3 L1262.5,107.7 L1263.0,108.1 L1263.5,108.5 L1264.0,108.9 L1264.6,109.3 L1265.1,109.7 L1265.6,110.1 L1266.2,110.5 L1266.7,110.9 L1267.2,111.3 L1267.7,111.7 L1268.3,112.1 L1268.8,112.5 L1269.3,112.9 L1269.8,113.3 L1270.4,113.7 L1270.9,114.1 L1271.4,114.6 L1271.9,115.0 L1272.5,115.4 L1273.0,115.8 L1273.5,116.2 L1274.0,116.6 L1274.5,117.0 L1275.1,117.4 L1275.6,117.8 L1276.1,118.2 L1276.6,118.6 L1277.1,119.0 L1277.7,119.4 L1278.2,119.8 L1278.7,120.3 L1279.2,120.7 L1279.7,121.1 L1280.3,121.5 L1280.8,121.9 L1281.3,122.3 L1281.8,122.7 L1282.3,123.1 L1282.8,123.6 L1283.4,124.0 L1283.9,124.4 L1284.4,124.8 L1284.9,125.2 L1285.4,125.6 L1285.9,126.1 L1286.5,126.5 L1287.0,126.9 L1287.5,127.3 L1288.0,127.7 L1288.5,128.1 L1289.0,128.6 L1289.5,129.0 L1290.0,129.4 L1290.6,129.8 L1291.1,130.2 L1291.6,130.7 L1292.1,131.1 L1292.6,131.5 L1293.1,131.9 L1293.6,132.4 L1294.1,132.8 L1294.6,133.2 L1295.1,133.6 L1295.7,134.0 L1296.2,134.5 L1296.7,134.9 L1297.2,135.3 L1297.7,135.8 L1298.2,136.2 L1298.7,136.6 L1299.2,137.0 L1299.7,137.5 L1300.2,137.9 L1300.7,138.3 L1301.2,138.7 L1301.7,139.2 L1302.2,139.6 L1302.7,140.0 L1303.2,140.5 L1303.8,140.9 L1304.3,141.3 L1304.8,141.8 L1305.3,142.2 L1305.8,142.6 L1306.3,143.0 L1306.8,143.5 L1307.3,143.9 L1307.8,144.3 L1308.3,144.8 L1308.8,145.2 L1309.3,145.7 L1309.8,146.1 L1310.3,146.5 L1310.8,147.0 L1311.3,147.4 L1311.8,147.8 L1312.3,148.3 L1312.8,148.7 L1313.3,149.1 L1313.8,149.6 L1314.3,150.0 L1314.8,150.5 L1315.3,150.9 L1315.8,151.3 L1316.3,151.8 L1316.8,152.2 L1317.3,152.7 L1317.8,153.1 L1318.2,153.5 L1318.7,154.0 L1319.2,154.4 L1319.7,154.9 L1320.2,155.3 L1320.7,155.7 L1321.2,156.2 L1321.7,156.6 L1322.2,157.1 L1322.7,157.5 L1323.2,158.0 L1323.7,158.4 L1324.2,158.8 L1324.7,159.3 L1325.2,159.7 L1325.7,160.2 L1326.1,160.6 L1326.6,161.1 L1327.1,161.5 L1327.6,162.0 L1328.1,162.4 L1328.6,162.9 L1329.1,163.3 L1329.6,163.8 L1330.1,164.2 L1330.6,164.7 L1331.1,165.1 L1331.5,165.5 L1332.0,166.0 L1332.5,166.4 L1333.0,166.9 L1333.5,167.3 L1334.0,167.8 L1334.5,168.2 L1335.0,168.7 L1335.5,169.2 L1335.9,169.6 L1336.4,170.1 L1336.9,170.5 L1337.4,171.0 L1337.9,171.4 L1338.4,171.9 L1338.9,172.3 L1339.3,172.8 L1339.8,173.2 L1340.3,173.7 L1340.8,174.1 L1341.3,174.6 L1341.8,175.0 L1342.3,175.5 L1342.7,176.0 L1343.2,176.4 L1343.7,176.9 L1344.2,177.3 L1344.7,177.8 L1345.2,178.2 L1345.6,178.7 L1346.1,179.2 L1346.6,179.6 L1347.1,180.1 L1347.6,180.5 L1348.0,181.0 L1348.5,181.4 L1349.0,181.9 L1349.5,182.4 L1350.0,182.8 L1350.5,183.3 L1350.9,183.7 L1351.4,184.2 L1351.9,184.7 L1352.4,185.1 L1352.9,185.6 L1353.3,186.0 L1353.8,186.5 L1354.3,187.0 L1354.8,187.4 L1355.3,187.9 L1355.7,188.3 L1356.2,188.8 L1356.7,189.3 L1357.2,189.7 L1357.6,190.2 L1358.1,190.7 L1358.6,191.1 L1359.1,191.6 L1359.6,192.0 L1360.0,192.5 L1360.5,193.0 L1361.0,193.4 L1361.5,193.9 L1361.9,194.4 L1362.4,194.8 L1362.9,195.3 L1363.4,195.8 L1363.8,196.2 L1364.3,196.7 L1364.8,197.2 L1365.3,197.6 L1365.7,198.1 L1366.2,198.6 L1366.7,199.0 L1367.2,199.5 L1367.6,200.0 L1368.1,200.4 L1368.6,200.9 L1369.1,201.4 L1369.5,201.8 L1370.0,202.3 L1370.5,202.8 L1370.9,203.2 L1371.4,203.7 L1371.9,204.2 L1372.4,204.6 L1372.8,205.1 L1373.3,205.6 L1373.8,206.0 L1374.3,206.5 L1374.7,207.0 L1375.2,207.5 L1375.7,207.9 L1376.1,208.4 L1376.6,208.9 L1377.1,209.3 L1377.5,209.8 L1378.0,210.3 L1378.5,210.7 L1379.0,211.2 L1379.4,211.7 L1379.9,212.2 L1380.4,212.6 L1380.8,213.1 L1381.3,213.6 L1381.8,214.0 L1382.2,214.5 L1382.7,215.0 L1383.2,215.5 L1383.7,215.9 L1384.1,216.4 L1384.6,216.9 L1385.1,217.4 L1385.5,217.8 L1386.0,218.3 L1386.5,218.8 L1386.9,219.2 L1387.4,219.7 L1387.9,220.2 L1388.3,220.7 L1388.8,221.1 L1389.3,221.6 L1389.7,222.1 L1390.2,222.6 L1390.7,223.0 L1391.1,223.5 L1391.6,224.0 L1392.1,224.5 L1392.5,224.9 L1393.0,225.4 L1393.5,225.9 L1393.9,226.4 L1394.4,226.8 L1394.9,227.3 L1395.3,227.8 L1395.8,228.3 L1396.3,228.7 L1396.7,229.2 L1397.2,229.7 L1397.7,230.2 L1398.1,230.6 L1398.6,231.1 L1399.0,231.6 L1399.5,232.1 L1400.0,232.6 L1400.4,233.0 L1400.9,233.5 L1401.4,234.0 L1401.8,234.5 L1402.3,234.9 L1402.8,235.4 L1403.2,235.9 L1403.7,236.4 L1404.1,236.8 L1404.6,237.3 L1405.1,237.8 L1405.5,238.3 L1406.0,238.8 L1406.5,239.2 L1406.9,239.7 L1407.4,240.2 L1407.8,240.7 L1408.3,241.1 L1408.8,241.6 L1409.2,242.1 L1409.7,242.6 L1410.2,243.1 L1410.6,243.5 L1411.1,244.0 L1411.5,244.5 L1412.0,245.0 L1412.5,245.4 L1412.9,245.9 L1413.4,246.4 L1413.9,246.9 L1414.3,247.4 L1414.8,247.8 L1415.2,248.3 L1415.7,248.8 L1416.2,249.3 L1416.6,249.8 L1417.1,250.2 L1417.5,250.7 L1418.0,251.2 L1418.5,251.7 L1418.9,252.1 L1419.4,252.6 L1419.8,253.1 L1420.3,253.6 L1420.8,254.1 L1421.2,254.5 L1421.7,255.0 L1422.1,255.5 L1422.6,256.0 L1423.1,256.5 L1423.5,256.9 L1424.0,257.4 L1424.4,257.9 L1424.9,258.4 L1425.4,258.9 L1425.8,259.3 L1426.3,259.8 L1426.7,260.3 L1427.2,260.8 L1427.6,261.2 L1428.1,261.7 L1428.6,262.2 L1429.0,262.7 L1429.5,263.2 L1429.9,263.6 L1430.4,264.1 L1430.9,264.6 L1431.3,265.1 L1431.8,265.6 L1432.2,266.0 L1432.7,266.5 L1433.2,267.0 L1433.6,267.5 L1434.1,268.0 L1434.5,268.4 L1435.0,268.9 L1435.4,269.4 L1435.9,269.9 L1436.4,270.4 L1436.8,270.8 L1437.3,271.3 L1437.7,271.8 L1438.2,272.3 L1438.6,272.7 L1439.1,273.2 L1439.6,273.7 L1440.0,274.2 L1440.5,274.7 L1440.9,275.1 L1441.4,275.6 L1441.9,276.1 L1442.3,276.6 L1442.8,277.1 L1443.2,277.5 L1443.7,278.0 L1444.1,278.5 L1444.6,279.0 L1445.1,279.4 L1445.5,279.9 L1446.0,280.4 L1446.4,280.9 L1446.9,281.4 L1447.3,281.8 L1447.8,282.3 L1448.3,282.8 L1448.7,283.3 L1449.2,283.7 L1449.6,284.2 L1450.1,284.7 L1450.5,285.2 L1451.0,285.7 L1451.5,286.1 L1451.9,286.6 L1452.4,287.1 L1452.8,287.6 L1453.3,288.0 L1453.7,288.5 L1454.2,289.0 L1454.7,289.5 L1455.1,290.0 L1455.6,290.4 L1456.0,290.9 L1456.5,291.4 L1456.9,291.9 L1457.4,292.3 L1457.9,292.8 L1458.3,293.3 L1458.8,293.8 L1459.2,294.2 L1459.7,294.7 L1460.1,295.2 L1460.6,295.7 L1461.0,296.1 L1461.5,296.6 L1462.0,297.1 L1462.4,297.6 L1462.9,298.0 L1463.3,298.5 L1463.8,299.0 L1464.2,299.5 L1464.7,299.9 L1465.2,300.4 L1465.6,300.9 L1466.1,301.4 L1466.5,301.8 L1467.0,302.3 L1467.4,302.8 L1467.9,303.3 L1468.4,303.7 L1468.8,304.2 L1469.3,304.7 L1469.7,305.2 L1470.2,305.6 L1470.6,306.1 L1471.1,306.6 L1471.6,307.1 L1472.0,307.5 L1472.5,308.0 L1472.9,308.5 L1473.4,308.9 L1473.8,309.4 L1474.3,309.9 L1474.8,310.4 L1475.2,310.8 L1475.7,311.3 L1476.1,311.8 L1476.6,312.3 L1477.0,312.7 L1477.5,313.2" stroke="#000000" stroke-width="9" fill="none" stroke-linejoin="round"/>
<path d="M364.0,30.4 L364.0,30.4 L365.6,31.5 L367.1,32.6 L368.6,33.8 L370.1,35.0 L371.6,36.1 L373.1,37.3 L374.5,38.5 L376.0,39.7 L377.4,41.0 L378.8,42.2 L380.2,43.5 L381.6,44.8 L382.9,46.0 L384.2,47.3 L385.6,48.6 L386.9,50.0 L388.2,51.3 L389.5,52.6 L390.7,54.0 L392.0,55.3 L393.2,56.7 L394.5,58.1 L395.7,59.5 L396.9,60.9 L398.1,62.3 L399.3,63.7 L400.5,65.2 L401.6,66.6 L402.8,68.0 L403.9,69.5 L405.1,70.9 L406.2,72.4 L407.4,73.9 L408.5,75.3 L409.6,76.8 L410.7,78.3 L411.8,79.8 L412.9,81.3 L414.0,82.8 L415.1,84.3 L416.2,85.8 L417.2,87.3 L418.3,88.8 L419.4,90.4 L420.4,91.9 L421.5,93.4 L422.6,94.9 L423.6,96.5 L424.7,98.0 L425.7,99.5 L426.8,101.0 L427.9,102.6 L428.9,104.1 L430.0,105.6 L431.0,107.2 L432.1,108.7 L433.2,110.2 L434.2,111.8 L435.3,113.3 L436.4,114.8 L437.4,116.3 L438.5,117.8 L439.6,119.4 L440.7,120.9 L441.8,122.4 L442.8,123.9 L443.9,125.4 L445.0,126.9 L446.1,128.4 L447.2,129.9 L448.3,131.4 L449.4,132.9 L450.5,134.4 L451.6,135.9 L452.7,137.4 L453.9,138.9 L455.0,140.4 L456.1,141.9 L457.2,143.4 L458.3,144.9 L459.5,146.4 L460.6,147.8 L461.7,149.3 L462.8,150.8 L464.0,152.3 L465.1,153.8 L466.2,155.2 L467.4,156.7 L468.5,158.2 L469.6,159.6 L470.8,161.1 L471.9,162.6 L473.1,164.1 L474.2,165.5 L475.4,167.0 L476.5,168.4 L477.7,169.9 L478.8,171.4 L480.0,172.8 L481.1,174.3 L482.3,175.7 L483.4,177.2 L484.6,178.6 L485.7,180.1 L486.9,181.5 L488.1,183.0 L489.2,184.4 L490.4,185.9 L491.5,187.3 L492.7,188.8 L493.8,190.2 L495.0,191.7 L496.2,193.1 L497.3,194.6 L498.5,196.0 L499.7,197.4 L500.8,198.9 L502.0,200.3 L503.2,201.7 L504.4,203.1 L505.6,204.5 L506.8,205.9 L508.0,207.3 L509.2,208.7 L510.5,210.1 L511.7,211.5 L513.0,212.8 L514.3,214.1 L515.6,215.5 L516.9,216.8 L518.2,218.1 L519.6,219.4 L521.0,220.6 L522.3,221.9 L523.8,223.1 L525.2,224.3 L526.7,225.5 L528.2,226.7 L529.7,227.8 L531.2,229.0 L532.8,230.1 L534.4,231.2 L536.0,232.2 L537.6,233.2 L539.3,234.3 L540.9,235.2 L542.6,236.2 L544.3,237.1 L546.1,238.0 L547.8,238.8 L549.5,239.7 L551.3,240.5 L553.1,241.2 L554.8,241.9 L556.6,242.6 L558.4,243.2 L560.2,243.8 L562.0,244.4 L563.9,244.9 L565.7,245.4 L567.5,245.9 L569.3,246.2 L571.1,246.6 L573.0,246.9 L574.8,247.1 L576.6,247.4 L578.4,247.5 L580.2,247.6 L582.0,247.7 L583.8,247.7 L585.6,247.7 L587.4,247.7 L589.2,247.6 L591.0,247.5 L592.8,247.3 L594.6,247.1 L596.4,246.9 L598.2,246.6 L600.0,246.3 L601.7,246.0 L603.5,245.6 L605.3,245.2 L607.1,244.8 L608.9,244.4 L610.6,243.9 L612.4,243.4 L614.2,242.9 L616.0,242.4 L617.7,241.8 L619.5,241.3 L621.3,240.7 L623.1,240.1 L624.8,239.4 L626.6,238.8 L628.4,238.2 L630.1,237.5 L631.9,236.8 L633.7,236.1 L635.5,235.5 L637.2,234.8 L639.0,234.0 L640.8,233.3 L642.5,232.6 L644.3,231.9 L646.1,231.2 L647.8,230.5 L649.6,229.8 L651.4,229.1 L653.2,228.3 L654.9,227.6 L656.7,226.9 L658.5,226.2 L660.2,225.6 L662.0,224.9 L663.8,224.2 L665.6,223.6 L667.4,222.9 L669.1,222.3 L670.9,221.7 L672.7,221.1 L674.5,220.5 L676.3,219.9 L678.1,219.3 L679.8,218.8 L681.6,218.2 L683.4,217.7 L685.2,217.1 L687.0,216.6 L688.8,216.1 L690.6,215.6 L692.4,215.1 L694.2,214.7 L696.0,214.2 L697.8,213.7 L699.6,213.3 L701.4,212.8 L703.2,212.4 L705.0,211.9 L706.8,211.5 L708.5,211.1 L710.3,210.7 L712.1,210.2 L713.9,209.8 L715.7,209.4 L717.5,209.0 L719.3,208.6 L721.1,208.2 L722.9,207.9 L724.7,207.5 L726.5,207.1 L728.3,206.7 L730.1,206.3 L731.9,206.0 L733.7,205.6 L735.5,205.2 L737.3,204.8 L739.1,204.4 L740.9,204.1 L742.7,203.7 L744.5,203.3 L746.3,202.9 L748.1,202.6 L749.9,202.2 L751.7,201.8 L753.5,201.4 L755.3,201.0 L757.1,200.6 L758.9,200.3 L760.6,199.9 L762.4,199.5 L764.2,199.1 L766.0,198.6 L767.8,198.2 L769.6,197.8 L771.4,197.4 L773.1,197.0 L774.9,196.5 L776.7,196.1 L778.5,195.7 L780.3,195.2 L782.1,194.8 L783.8,194.4 L785.6,193.9 L787.4,193.5 L789.2,193.0 L791.0,192.5 L792.7,192.1 L794.5,191.6 L796.3,191.2 L798.1,190.7 L799.9,190.2 L801.7,189.7 L803.5,189.3 L805.2,188.8 L807.0,188.3 L808.8,187.8 L810.6,187.3 L812.4,186.8 L814.2,186.4 L816.0,185.9 L817.8,185.4 L819.6,184.9 L821.4,184.4 L823.2,183.9 L825.0,183.4 L826.8,182.9 L828.6,182.4 L830.4,181.8 L832.2,181.3 L834.0,180.8 L835.9,180.3 L837.7,179.8 L839.5,179.3 L841.3,178.8 L843.1,178.2 L845.0,177.7 L846.8,177.2 L848.6,176.7 L850.5,176.2 L852.3,175.6 L854.2,175.1 L856.0,174.6 L857.9,174.1 L859.7,173.6 L861.6,173.0 L863.4,172.5 L865.3,172.0 L867.1,171.5 L869.0,171.0 L870.9,170.6 L872.7,170.1 L874.6,169.7 L876.5,169.2 L878.3,168.8 L880.2,168.4 L882.0,168.1 L883.9,167.8 L885.8,167.4 L887.6,167.2 L889.5,166.9 L891.3,166.7 L893.2,166.5 L895.0,166.4 L896.9,166.3 L898.7,166.2 L900.5,166.2 L902.4,166.2 L904.2,166.3 L906.0,166.4 L907.8,166.5 L909.6,166.7 L911.4,166.9 L913.2,167.2 L915.0,167.5 L916.8,167.9 L918.6,168.2 L920.4,168.7 L922.1,169.1 L923.9,169.6 L925.7,170.1 L927.4,170.7 L929.2,171.3 L930.9,171.9 L932.6,172.5 L934.3,173.2 L936.0,173.9 L937.8,174.7 L939.4,175.5 L941.1,176.3 L942.8,177.1 L944.5,177.9 L946.1,178.8 L947.8,179.7 L949.4,180.6 L951.1,181.6 L952.7,182.5 L954.3,183.5 L955.9,184.6 L957.5,185.6 L959.1,186.6 L960.7,187.7 L962.3,188.8 L963.8,189.9 L965.3,191.0 L966.9,192.2 L968.4,193.3 L969.9,194.5 L971.4,195.7 L972.9,196.9 L974.4,198.1 L975.8,199.3 L977.3,200.5 L978.7,201.7 L980.2,203.0 L981.6,204.2 L983.0,205.5 L984.4,206.8 L985.7,208.1 L987.1,209.3 L988.4,210.6 L989.8,211.9 L991.1,213.2 L992.4,214.5 L993.7,215.8 L995.0,217.1 L996.3,218.4 L997.5,219.7 L998.8,221.0 L1000.1,222.4 L1001.3,223.7 L1002.6,225.0 L1003.8,226.3 L1005.0,227.6 L1006.3,229.0 L1007.5,230.3 L1008.7,231.6 L1010.0,233.0 L1011.2,234.3 L1012.4,235.6 L1013.7,237.0 L1014.9,238.3 L1016.2,239.7 L1017.4,241.0 L1018.7,242.3 L1020.0,243.7 L1021.3,245.0 L1022.5,246.4 L1023.8,247.7 L1025.1,249.1 L1026.5,250.4 L1027.8,251.7 L1029.1,253.1 L1030.5,254.4 L1031.8,255.7 L1033.2,257.0 L1034.6,258.4 L1036.0,259.7 L1037.4,261.0 L1038.8,262.3 L1040.2,263.5 L1041.6,264.8 L1043.0,266.1 L1044.5,267.3 L1045.9,268.6 L1047.4,269.8 L1048.8,271.0 L1050.3,272.2 L1051.8,273.4 L1053.3,274.6 L1054.8,275.7 L1056.3,276.9 L1057.9,278.0 L1059.4,279.1 L1060.9,280.2 L1062.5,281.3 L1064.1,282.3 L1065.6,283.3 L1067.2,284.3 L1068.8,285.3 L1070.4,286.3 L1072.0,287.2 L1073.6,288.1 L1075.3,289.0 L1076.9,289.9 L1078.5,290.7 L1080.2,291.5 L1081.9,292.3 L1083.5,293.0 L1085.2,293.7 L1086.9,294.4 L1088.6,295.1 L1090.3,295.7 L1092.0,296.3 L1093.8,296.9 L1095.5,297.4 L1097.2,297.9 L1099.0,298.3 L1100.8,298.7 L1102.5,299.1 L1104.3,299.5 L1106.1,299.8 L1107.9,300.1 L1109.7,300.3 L1111.5,300.5 L1113.3,300.7 L1115.2,300.9 L1117.0,301.0 L1118.8,301.2 L1120.7,301.3 L1122.5,301.4 L1124.4,301.4 L1126.2,301.5 L1128.1,301.6 L1130.0,301.6 L1131.9,301.7 L1133.8,301.7 L1135.6,301.8 L1137.5,301.8 L1139.4,301.9 L1141.3,302.0 L1143.2,302.0 L1145.1,302.1 L1147.0,302.2 L1148.9,302.3 L1150.9,302.4 L1152.8,302.6 L1154.7,302.8 L1156.6,303.0 L1158.5,303.2 L1160.4,303.4 L1162.3,303.7 L1164.2,303.9 L1166.1,304.2 L1168.0,304.6 L1169.9,304.9 L1171.8,305.3 L1173.6,305.7 L1175.5,306.1 L1177.3,306.6 L1179.2,307.1 L1181.0,307.6 L1182.8,308.2 L1184.5,308.7 L1186.3,309.4 L1188.1,310.0 L1189.8,310.7 L1191.5,311.4 L1193.2,312.1 L1194.9,312.9 L1196.5,313.7 L1198.1,314.6 L1199.7,315.5 L1201.3,316.4 L1202.8,317.3 L1204.3,318.3 L1205.8,319.3 L1207.3,320.4 L1208.8,321.5 L1210.2,322.6 L1211.6,323.7 L1213.0,324.9 L1214.4,326.1 L1215.7,327.3 L1217.0,328.6 L1218.4,329.8 L1219.7,331.1 L1220.9,332.5 L1222.2,333.8 L1223.4,335.2 L1224.6,336.6 L1225.9,338.0 L1227.1,339.4 L1228.2,340.8 L1229.4,342.3 L1230.5,343.8 L1231.7,345.3 L1232.8,346.8 L1233.9,348.3 L1235.0,349.8 L1236.1,351.4 L1237.2,352.9 L1238.3,354.5 L1239.3,356.1 L1240.4,357.7 L1241.4,359.3 L1242.4,360.9 L1243.5,362.5 L1244.5,364.1 L1245.5,365.7 L1246.5,367.4 L1247.5,369.0 L1248.5,370.6 L1249.5,372.3 L1250.5,373.9 L1251.4,375.5 L1252.4,377.2 L1253.4,378.8 L1254.3,380.4 L1255.3,382.1 L1256.3,383.7 L1257.3,385.3 L1258.2,386.9 L1259.2,388.5 L1260.2,390.1 L1261.1,391.7 L1262.1,393.3 L1263.0,394.9 L1264.0,396.4 L1265.0,398.0 L1265.9,399.6 L1266.9,401.2 L1267.8,402.7 L1268.8,404.3 L1269.7,405.9 L1270.7,407.4 L1271.6,409.0 L1272.6,410.5 L1273.5,412.1 L1274.5,413.7 L1275.4,415.2 L1276.3,416.8 L1277.2,418.4 L1278.2,420.0 L1279.1,421.5 L1280.0,423.1 L1280.9,424.7 L1281.8,426.3 L1282.7,427.9 L1283.6,429.5 L1284.5,431.1 L1285.4,432.8 L1286.2,434.4 L1287.1,436.0 L1288.0,437.7 L1288.8,439.3 L1289.7,440.9 L1290.5,442.6 L1291.4,444.3 L1292.2,445.9 L1293.0,447.6 L1293.9,449.3 L1294.7,450.9 L1295.5,452.6 L1296.4,454.3 L1297.2,456.0 L1298.0,457.7 L1298.8,459.4 L1299.6,461.1 L1300.4,462.8 L1301.2,464.5 L1302.0,466.2 L1302.9,467.9 L1303.7,469.5 L1304.5,471.2 L1305.3,472.9 L1306.1,474.6 L1306.9,476.3 L1307.7,478.0 L1308.5,479.7 L1309.3,481.4 L1310.1,483.1 L1310.9,484.8 L1311.7,486.5 L1312.5,488.2 L1313.3,489.9 L1314.1,491.6 L1314.8,493.2 L1315.6,494.9 L1316.4,496.6 L1317.2,498.3 L1318.0,500.0 L1318.8,501.7 L1319.6,503.3 L1320.4,505.0 L1321.2,506.7 L1322.0,508.4 L1322.8,510.1 L1323.6,511.7 L1324.4,513.4 L1325.2,515.1 L1326.0,516.8 L1326.8,518.4 L1327.7,520.1 L1328.5,521.8 L1329.3,523.4 L1330.1,525.1 L1330.9,526.8 L1331.7,528.4 L1332.5,530.1 L1333.3,531.8 L1334.1,533.4 L1334.9,535.1 L1335.7,536.8 L1336.5,538.4 L1337.4,540.1 L1338.2,541.8 L1339.0,543.4 L1339.8,545.1 L1340.6,546.7 L1341.5,548.4 L1342.3,550.0 L1343.1,551.7 L1343.9,553.4 L1344.8,555.0 L1345.6,556.7 L1346.4,558.3 L1347.2,560.0 L1348.1,561.6 L1348.9,563.3 L1349.7,564.9 L1350.6,566.6 L1351.4,568.2 L1352.3,569.9 L1353.1,571.5 L1354.0,573.2 L1354.8,574.8 L1355.7,576.4 L1356.5,578.1 L1357.4,579.7 L1358.2,581.4 L1359.1,583.0 L1360.0,584.6 L1360.8,586.3 L1361.7,587.9 L1362.6,589.6 L1363.4,591.2 L1364.3,592.8 L1365.2,594.5 L1366.1,596.1 L1366.9,597.7 L1367.8,599.4 L1368.7,601.0 L1369.6,602.6 L1370.5,604.3 L1371.4,605.9 L1372.3,607.5 L1373.2,609.1 L1374.1,610.8 L1375.0,612.4 L1375.9,614.0 L1376.8,615.7 L1377.8,617.3 L1378.7,618.9 L1379.6,620.5 L1380.5,622.1 L1381.5,623.8 L1382.4,625.4 L1383.3,627.0 L1384.3,628.6 L1385.2,630.2 L1386.2,631.9 L1387.1,633.5 L1388.1,635.1 L1389.0,636.7 L1390.0,638.3 L1391.0,639.9 L1392.0,641.6 L1392.9,643.2 L1393.9,644.8 L1394.9,646.4 L1395.9,648.0 L1396.9,649.6 L1397.9,651.2 L1398.9,652.8 L1399.9,654.4 L1400.9,656.0 L1401.9,657.6 L1402.9,659.2 L1404.0,660.8 L1405.0,662.4 L1406.1,663.9 L1407.1,665.5 L1408.2,667.0 L1409.3,668.6 L1410.4,670.1 L1411.5,671.6 L1412.6,673.1 L1413.7,674.6 L1414.9,676.1 L1416.0,677.5 L1417.2,678.9 L1418.4,680.4 L1419.6,681.7 L1420.8,683.1 L1422.0,684.5 L1423.3,685.8 L1424.6,687.1 L1425.9,688.4 L1427.2,689.7 L1428.5,690.9 L1429.9,692.1 L1431.2,693.3 L1432.6,694.5 L1434.0,695.6 L1435.5,696.7 L1436.9,697.7 L1438.4,698.8 L1439.9,699.8 L1441.5,700.7 L1443.0,701.7 L1444.6,702.6 L1446.2,703.4 L1447.9,704.3 L1449.5,705.1 L1451.2,705.8 L1452.9,706.5 L1454.7,707.2 L1456.5,707.8 L1458.3,708.4 L1460.1,708.9 L1462.0,709.4 L1463.9,709.9 L1465.8,710.3 L1467.8,710.7 L1469.8,711.0 L1471.8,711.2 L1473.7,711.2 L1475.6,711.2 L1477.5,711.0" stroke="#FF0000" stroke-width="9" fill="none" stroke-linejoin="round" stroke-dasharray="26 23"/>
<path d="M364.0,30.4 L364.0,30.4 L365.6,31.0 L367.1,31.5 L368.7,32.1 L370.2,32.7 L371.8,33.3 L373.3,33.9 L374.9,34.5 L376.4,35.1 L377.9,35.7 L379.5,36.3 L381.0,37.0 L382.5,37.6 L384.0,38.2 L385.5,38.9 L387.0,39.6 L388.6,40.2 L390.1,40.9 L391.6,41.6 L393.1,42.3 L394.6,43.0 L396.0,43.7 L397.5,44.4 L399.0,45.1 L400.5,45.8 L402.0,46.5 L403.5,47.2 L404.9,48.0 L406.4,48.7 L407.9,49.5 L409.3,50.2 L410.8,51.0 L412.3,51.7 L413.7,52.5 L415.2,53.3 L416.6,54.0 L418.1,54.8 L419.5,55.6 L421.0,56.4 L422.4,57.2 L423.9,58.0 L425.3,58.8 L426.7,59.6 L428.2,60.4 L429.6,61.2 L431.0,62.1 L432.5,62.9 L433.9,63.7 L435.3,64.6 L436.7,65.4 L438.2,66.2 L439.6,67.1 L441.0,67.9 L442.4,68.8 L443.8,69.6 L445.3,70.5 L446.7,71.3 L448.1,72.2 L449.5,73.1 L450.9,73.9 L452.3,74.8 L453.7,75.7 L455.1,76.6 L456.5,77.4 L457.9,78.3 L459.3,79.2 L460.7,80.1 L462.1,81.0 L463.5,81.9 L464.9,82.8 L466.3,83.6 L467.7,84.5 L469.1,85.4 L470.5,86.3 L471.9,87.2 L473.3,88.1 L474.6,89.0 L476.0,89.9 L477.4,90.8 L478.8,91.8 L480.2,92.7 L481.6,93.6 L483.0,94.5 L484.4,95.4 L485.8,96.3 L487.1,97.2 L488.5,98.1 L489.9,99.0 L491.3,99.9 L492.7,100.9 L494.1,101.8 L495.5,102.7 L496.8,103.6 L498.2,104.5 L499.6,105.4 L501.0,106.3 L502.4,107.2 L503.8,108.1 L505.2,109.0 L506.5,110.0 L507.9,110.9 L509.3,111.8 L510.7,112.7 L512.1,113.6 L513.5,114.5 L514.9,115.4 L516.3,116.3 L517.7,117.2 L519.0,118.1 L520.4,119.0 L521.8,119.9 L523.2,120.8 L524.6,121.7 L526.0,122.5 L527.4,123.4 L528.8,124.3 L530.2,125.2 L531.6,126.1 L533.0,126.9 L534.4,127.8 L535.8,128.7 L537.2,129.6 L538.6,130.4 L540.0,131.3 L541.5,132.2 L542.9,133.0 L544.3,133.9 L545.7,134.7 L547.1,135.6 L548.5,136.4 L550.0,137.3 L551.4,138.1 L552.8,138.9 L554.2,139.8 L555.6,140.6 L557.1,141.4 L558.5,142.2 L559.9,143.0 L561.4,143.8 L562.8,144.7 L564.2,145.5 L565.7,146.3 L567.1,147.0 L568.6,147.8 L570.0,148.6 L571.5,149.4 L572.9,150.2 L574.4,150.9 L575.8,151.7 L577.3,152.5 L578.8,153.2 L580.2,154.0 L581.7,154.7 L583.2,155.4 L584.6,156.2 L586.1,156.9 L587.6,157.6 L589.1,158.3 L590.6,159.0 L592.1,159.7 L593.5,160.4 L595.0,161.1 L596.5,161.8 L598.0,162.5 L599.5,163.2 L601.1,163.8 L602.6,164.5 L604.1,165.1 L605.6,165.8 L607.1,166.4 L608.6,167.0 L610.2,167.7 L611.7,168.3 L613.2,168.9 L614.8,169.5 L616.3,170.1 L617.8,170.7 L619.4,171.2 L620.9,171.8 L622.5,172.4 L624.1,172.9 L625.6,173.5 L627.2,174.0 L628.7,174.6 L630.3,175.1 L631.9,175.6 L633.4,176.2 L635.0,176.7 L636.6,177.2 L638.2,177.7 L639.8,178.2 L641.3,178.7 L642.9,179.2 L644.5,179.6 L646.1,180.1 L647.7,180.6 L649.3,181.0 L650.9,181.5 L652.5,181.9 L654.1,182.3 L655.7,182.8 L657.3,183.2 L658.9,183.6 L660.6,184.0 L662.2,184.4 L663.8,184.8 L665.4,185.2 L667.0,185.6 L668.7,186.0 L670.3,186.3 L671.9,186.7 L673.5,187.1 L675.2,187.4 L676.8,187.8 L678.4,188.1 L680.1,188.4 L681.7,188.8 L683.3,189.1 L685.0,189.4 L686.6,189.7 L688.2,190.0 L689.9,190.3 L691.5,190.6 L693.2,190.9 L694.8,191.2 L696.5,191.5 L698.1,191.7 L699.8,192.0 L701.4,192.3 L703.1,192.5 L704.7,192.8 L706.4,193.0 L708.0,193.2 L709.7,193.5 L711.3,193.7 L713.0,193.9 L714.6,194.1 L716.3,194.3 L718.0,194.5 L719.6,194.7 L721.3,194.9 L722.9,195.1 L724.6,195.3 L726.2,195.5 L727.9,195.6 L729.6,195.8 L731.2,196.0 L732.9,196.1 L734.5,196.2 L736.2,196.4 L737.9,196.5 L739.5,196.6 L741.2,196.7 L742.8,196.8 L744.5,196.9 L746.1,197.0 L747.8,197.0 L749.4,197.1 L751.1,197.1 L752.7,197.1 L754.4,197.1 L756.0,197.1 L757.7,197.1 L759.3,197.1 L760.9,197.1 L762.6,197.0 L764.2,196.9 L765.8,196.8 L767.4,196.7 L769.1,196.6 L770.7,196.5 L772.3,196.3 L773.9,196.2 L775.5,196.0 L777.1,195.8 L778.7,195.5 L780.3,195.3 L781.9,195.0 L783.5,194.7 L785.1,194.4 L786.7,194.1 L788.3,193.8 L789.8,193.4 L791.4,193.0 L793.0,192.6 L794.5,192.2 L796.1,191.8 L797.7,191.3 L799.2,190.8 L800.8,190.4 L802.3,189.9 L803.9,189.3 L805.4,188.8 L807.0,188.3 L808.5,187.7 L810.0,187.2 L811.6,186.6 L813.1,186.0 L814.6,185.4 L816.2,184.8 L817.7,184.2 L819.2,183.6 L820.8,182.9 L822.3,182.3 L823.8,181.6 L825.3,181.0 L826.9,180.3 L828.4,179.7 L829.9,179.0 L831.5,178.3 L833.0,177.6 L834.5,177.0 L836.0,176.3 L837.6,175.6 L839.1,174.9 L840.6,174.2 L842.2,173.5 L843.7,172.8 L845.2,172.1 L846.8,171.5 L848.3,170.8 L849.8,170.1 L851.4,169.4 L852.9,168.7 L854.5,168.0 L856.0,167.4 L857.6,166.7 L859.1,166.1 L860.7,165.4 L862.3,164.8 L863.8,164.1 L865.4,163.5 L867.0,162.9 L868.5,162.2 L870.1,161.6 L871.7,161.0 L873.3,160.5 L874.9,159.9 L876.5,159.3 L878.1,158.8 L879.7,158.2 L881.3,157.7 L882.9,157.2 L884.5,156.7 L886.1,156.2 L887.7,155.8 L889.3,155.3 L890.9,154.9 L892.6,154.5 L894.2,154.1 L895.8,153.8 L897.4,153.4 L899.1,153.1 L900.7,152.8 L902.3,152.5 L903.9,152.3 L905.6,152.1 L907.2,151.9 L908.8,151.7 L910.4,151.6 L912.0,151.5 L913.7,151.4 L915.3,151.3 L916.9,151.3 L918.5,151.3 L920.1,151.4 L921.7,151.5 L923.3,151.6 L924.9,151.7 L926.6,151.9 L928.1,152.1 L929.7,152.3 L931.3,152.6 L932.9,152.9 L934.5,153.2 L936.1,153.6 L937.7,154.0 L939.2,154.4 L940.8,154.8 L942.3,155.3 L943.9,155.8 L945.4,156.3 L947.0,156.9 L948.5,157.5 L950.0,158.1 L951.5,158.7 L953.0,159.4 L954.5,160.0 L956.0,160.7 L957.5,161.4 L959.0,162.2 L960.4,162.9 L961.9,163.7 L963.3,164.5 L964.8,165.3 L966.2,166.2 L967.6,167.0 L969.0,167.9 L970.4,168.8 L971.8,169.7 L973.1,170.6 L974.5,171.6 L975.8,172.5 L977.1,173.5 L978.5,174.5 L979.8,175.5 L981.1,176.5 L982.4,177.6 L983.7,178.6 L984.9,179.6 L986.2,180.7 L987.5,181.8 L988.7,182.9 L990.0,184.0 L991.2,185.1 L992.4,186.2 L993.7,187.3 L994.9,188.4 L996.1,189.6 L997.3,190.7 L998.5,191.9 L999.7,193.1 L1000.9,194.2 L1002.1,195.4 L1003.3,196.6 L1004.5,197.7 L1005.7,198.9 L1006.9,200.1 L1008.1,201.3 L1009.3,202.5 L1010.5,203.7 L1011.7,204.9 L1012.9,206.1 L1014.0,207.3 L1015.2,208.5 L1016.4,209.7 L1017.6,210.9 L1018.8,212.1 L1020.0,213.3 L1021.2,214.5 L1022.4,215.7 L1023.6,216.9 L1024.8,218.1 L1026.0,219.3 L1027.2,220.5 L1028.4,221.6 L1029.6,222.8 L1030.8,224.0 L1032.0,225.1 L1033.2,226.3 L1034.4,227.4 L1035.7,228.6 L1036.9,229.7 L1038.1,230.9 L1039.3,232.0 L1040.6,233.1 L1041.8,234.2 L1043.1,235.3 L1044.3,236.4 L1045.6,237.4 L1046.8,238.5 L1048.1,239.5 L1049.4,240.6 L1050.7,241.6 L1052.0,242.6 L1053.3,243.6 L1054.6,244.6 L1055.9,245.6 L1057.2,246.5 L1058.5,247.5 L1059.9,248.4 L1061.2,249.3 L1062.5,250.2 L1063.9,251.1 L1065.3,252.0 L1066.6,252.8 L1068.0,253.7 L1069.4,254.5 L1070.8,255.3 L1072.2,256.0 L1073.7,256.8 L1075.1,257.5 L1076.5,258.2 L1078.0,258.9 L1079.4,259.6 L1080.9,260.3 L1082.4,260.9 L1083.9,261.5 L1085.4,262.1 L1086.9,262.7 L1088.4,263.2 L1090.0,263.8 L1091.5,264.3 L1093.1,264.8 L1094.6,265.3 L1096.2,265.7 L1097.8,266.2 L1099.3,266.6 L1100.9,267.1 L1102.5,267.5 L1104.1,267.9 L1105.7,268.3 L1107.3,268.6 L1109.0,269.0 L1110.6,269.3 L1112.2,269.7 L1113.9,270.0 L1115.5,270.3 L1117.1,270.7 L1118.8,271.0 L1120.4,271.3 L1122.1,271.5 L1123.8,271.8 L1125.4,272.1 L1127.1,272.4 L1128.7,272.7 L1130.4,272.9 L1132.1,273.2 L1133.8,273.4 L1135.4,273.7 L1137.1,273.9 L1138.8,274.2 L1140.5,274.4 L1142.1,274.7 L1143.8,274.9 L1145.5,275.2 L1147.2,275.4 L1148.8,275.7 L1150.5,275.9 L1152.2,276.2 L1153.9,276.4 L1155.5,276.7 L1157.2,276.9 L1158.9,277.2 L1160.5,277.5 L1162.2,277.7 L1163.8,278.0 L1165.5,278.3 L1167.1,278.6 L1168.8,278.9 L1170.4,279.2 L1172.0,279.5 L1173.7,279.9 L1175.3,280.2 L1176.9,280.6 L1178.5,280.9 L1180.1,281.3 L1181.7,281.7 L1183.3,282.1 L1184.9,282.5 L1186.5,282.9 L1188.1,283.3 L1189.6,283.8 L1191.2,284.2 L1192.7,284.7 L1194.3,285.2 L1195.8,285.7 L1197.3,286.3 L1198.9,286.8 L1200.4,287.4 L1201.9,288.0 L1203.3,288.6 L1204.8,289.2 L1206.3,289.8 L1207.7,290.5 L1209.2,291.2 L1210.6,291.9 L1212.0,292.6 L1213.4,293.4 L1214.8,294.1 L1216.2,294.9 L1217.6,295.8 L1218.9,296.6 L1220.3,297.5 L1221.6,298.3 L1223.0,299.2 L1224.3,300.1 L1225.6,301.1 L1226.9,302.0 L1228.2,303.0 L1229.4,304.0 L1230.7,305.0 L1232.0,306.0 L1233.2,307.1 L1234.5,308.1 L1235.7,309.2 L1236.9,310.3 L1238.1,311.4 L1239.3,312.5 L1240.5,313.6 L1241.7,314.8 L1242.9,315.9 L1244.1,317.1 L1245.2,318.3 L1246.4,319.5 L1247.5,320.7 L1248.7,321.9 L1249.8,323.2 L1250.9,324.4 L1252.1,325.7 L1253.2,326.9 L1254.3,328.2 L1255.4,329.5 L1256.5,330.8 L1257.6,332.1 L1258.7,333.4 L1259.7,334.7 L1260.8,336.0 L1261.9,337.3 L1262.9,338.7 L1264.0,340.0 L1265.0,341.4 L1266.1,342.7 L1267.1,344.1 L1268.2,345.4 L1269.2,346.8 L1270.2,348.2 L1271.3,349.6 L1272.3,350.9 L1273.3,352.3 L1274.3,353.7 L1275.3,355.1 L1276.3,356.5 L1277.3,357.9 L1278.3,359.2 L1279.3,360.6 L1280.3,362.0 L1281.3,363.4 L1282.3,364.8 L1283.3,366.2 L1284.3,367.6 L1285.3,369.0 L1286.3,370.3 L1287.2,371.7 L1288.2,373.1 L1289.2,374.5 L1290.2,375.8 L1291.2,377.2 L1292.1,378.5 L1293.1,379.9 L1294.1,381.3 L1295.1,382.6 L1296.0,383.9 L1297.0,385.3 L1298.0,386.6 L1299.0,387.9 L1299.9,389.3 L1300.9,390.6 L1301.9,391.9 L1302.9,393.2 L1303.8,394.5 L1304.8,395.8 L1305.8,397.1 L1306.7,398.5 L1307.7,399.8 L1308.7,401.1 L1309.7,402.3 L1310.6,403.6 L1311.6,404.9 L1312.6,406.2 L1313.5,407.5 L1314.5,408.8 L1315.5,410.1 L1316.4,411.4 L1317.4,412.7 L1318.4,413.9 L1319.3,415.2 L1320.3,416.5 L1321.3,417.8 L1322.3,419.1 L1323.2,420.4 L1324.2,421.6 L1325.2,422.9 L1326.1,424.2 L1327.1,425.5 L1328.1,426.8 L1329.1,428.0 L1330.0,429.3 L1331.0,430.6 L1332.0,431.9 L1332.9,433.2 L1333.9,434.5 L1334.9,435.8 L1335.9,437.1 L1336.8,438.4 L1337.8,439.7 L1338.8,440.9 L1339.8,442.3 L1340.7,443.6 L1341.7,444.9 L1342.7,446.2 L1343.7,447.5 L1344.7,448.8 L1345.6,450.1 L1346.6,451.4 L1347.6,452.8 L1348.6,454.1 L1349.6,455.4 L1350.5,456.8 L1351.5,458.1 L1352.5,459.4 L1353.5,460.8 L1354.5,462.1 L1355.5,463.5 L1356.5,464.8 L1357.5,466.2 L1358.5,467.5 L1359.5,468.9 L1360.5,470.3 L1361.5,471.6 L1362.5,473.0 L1363.5,474.3 L1364.5,475.7 L1365.5,477.1 L1366.5,478.4 L1367.5,479.8 L1368.5,481.1 L1369.6,482.5 L1370.6,483.8 L1371.6,485.2 L1372.7,486.5 L1373.7,487.8 L1374.7,489.2 L1375.8,490.5 L1376.8,491.9 L1377.9,493.2 L1379.0,494.5 L1380.0,495.8 L1381.1,497.1 L1382.2,498.4 L1383.3,499.7 L1384.3,501.0 L1385.4,502.3 L1386.5,503.6 L1387.6,504.9 L1388.7,506.1 L1389.8,507.4 L1391.0,508.7 L1392.1,509.9 L1393.2,511.1 L1394.4,512.4 L1395.5,513.6 L1396.7,514.8 L1397.8,516.0 L1399.0,517.2 L1400.1,518.4 L1401.3,519.5 L1402.5,520.7 L1403.7,521.9 L1404.9,523.0 L1406.1,524.1 L1407.3,525.2 L1408.6,526.3 L1409.8,527.4 L1411.0,528.5 L1412.3,529.6 L1413.5,530.6 L1414.8,531.6 L1416.1,532.7 L1417.4,533.7 L1418.7,534.7 L1420.0,535.7 L1421.3,536.6 L1422.6,537.6 L1423.9,538.5 L1425.3,539.4 L1426.6,540.3 L1428.0,541.2 L1429.3,542.1 L1430.7,542.9 L1432.1,543.8 L1433.5,544.6 L1434.9,545.4 L1436.3,546.1 L1437.8,546.9 L1439.2,547.6 L1440.7,548.4 L1442.1,549.0 L1443.6,549.7 L1445.1,550.3 L1446.6,550.9 L1448.1,551.5 L1449.6,552.0 L1451.2,552.5 L1452.7,552.9 L1454.3,553.3 L1455.8,553.7 L1457.4,554.0 L1459.0,554.2 L1460.6,554.4 L1462.3,554.5 L1463.9,554.6 L1465.6,554.7 L1467.2,554.6 L1468.9,554.5 L1470.6,554.4 L1472.3,554.1 L1474.0,553.8 L1475.8,553.5 L1477.5,553.0" stroke="#FF0000" stroke-width="9" fill="none" stroke-linejoin="round"/>
<path d="M894.6,30.4 L894.6,30.4 L895.4,31.0 L896.3,31.5 L897.1,32.1 L897.9,32.7 L898.7,33.3 L899.6,33.8 L900.4,34.4 L901.2,35.0 L902.0,35.6 L902.8,36.2 L903.6,36.7 L904.4,37.3 L905.2,37.9 L906.0,38.5 L906.8,39.1 L907.6,39.7 L908.4,40.3 L909.2,40.9 L910.0,41.5 L910.8,42.1 L911.6,42.7 L912.4,43.4 L913.2,44.0 L914.0,44.6 L914.7,45.2 L915.5,45.8 L916.3,46.4 L917.1,47.1 L917.8,47.7 L918.6,48.3 L919.4,49.0 L920.1,49.6 L920.9,50.2 L921.7,50.9 L922.4,51.5 L923.2,52.1 L923.9,52.8 L924.7,53.4 L925.4,54.1 L926.2,54.7 L926.9,55.4 L927.7,56.0 L928.4,56.7 L929.2,57.3 L929.9,58.0 L930.7,58.6 L931.4,59.3 L932.1,60.0 L932.9,60.6 L933.6,61.3 L934.3,62.0 L935.1,62.6 L935.8,63.3 L936.5,64.0 L937.2,64.6 L938.0,65.3 L938.7,66.0 L939.4,66.7 L940.1,67.4 L940.8,68.0 L941.5,68.7 L942.3,69.4 L943.0,70.1 L943.7,70.8 L944.4,71.5 L945.1,72.2 L945.8,72.9 L946.5,73.6 L947.2,74.3 L947.9,75.0 L948.6,75.7 L949.3,76.4 L950.0,77.1 L950.7,77.8 L951.4,78.5 L952.1,79.2 L952.8,79.9 L953.5,80.6 L954.1,81.4 L954.8,82.1 L955.5,82.8 L956.2,83.5 L956.9,84.2 L957.6,84.9 L958.2,85.7 L958.9,86.4 L959.6,87.1 L960.3,87.8 L961.0,88.6 L961.6,89.3 L962.3,90.0 L963.0,90.8 L963.7,91.5 L964.3,92.2 L965.0,93.0 L965.7,93.7 L966.3,94.5 L967.0,95.2 L967.7,95.9 L968.3,96.7 L969.0,97.4 L969.7,98.2 L970.3,98.9 L971.0,99.7 L971.6,100.4 L972.3,101.2 L972.9,101.9 L973.6,102.7 L974.3,103.4 L974.9,104.2 L975.6,105.0 L976.2,105.7 L976.9,106.5 L977.5,107.2 L978.2,108.0 L978.8,108.8 L979.5,109.5 L980.1,110.3 L980.8,111.1 L981.4,111.8 L982.1,112.6 L982.7,113.4 L983.4,114.1 L984.0,114.9 L984.7,115.7 L985.3,116.4 L985.9,117.2 L986.6,118.0 L987.2,118.7 L987.9,119.5 L988.5,120.3 L989.2,121.1 L989.8,121.8 L990.4,122.6 L991.1,123.4 L991.7,124.2 L992.4,124.9 L993.0,125.7 L993.7,126.5 L994.3,127.3 L994.9,128.0 L995.6,128.8 L996.2,129.6 L996.9,130.3 L997.5,131.1 L998.2,131.9 L998.8,132.7 L999.5,133.4 L1000.1,134.2 L1000.7,135.0 L1001.4,135.7 L1002.0,136.5 L1002.7,137.3 L1003.3,138.1 L1004.0,138.8 L1004.6,139.6 L1005.3,140.4 L1005.9,141.1 L1006.6,141.9 L1007.2,142.6 L1007.9,143.4 L1008.5,144.2 L1009.2,144.9 L1009.8,145.7 L1010.5,146.5 L1011.2,147.2 L1011.8,148.0 L1012.5,148.7 L1013.1,149.5 L1013.8,150.2 L1014.5,151.0 L1015.1,151.7 L1015.8,152.5 L1016.4,153.2 L1017.1,154.0 L1017.8,154.7 L1018.4,155.4 L1019.1,156.2 L1019.8,156.9 L1020.5,157.6 L1021.1,158.4 L1021.8,159.1 L1022.5,159.8 L1023.2,160.6 L1023.9,161.3 L1024.5,162.0 L1025.2,162.7 L1025.9,163.5 L1026.6,164.2 L1027.3,164.9 L1028.0,165.6 L1028.7,166.3 L1029.4,167.0 L1030.1,167.7 L1030.8,168.4 L1031.5,169.1 L1032.2,169.8 L1032.9,170.5 L1033.6,171.2 L1034.3,171.9 L1035.0,172.6 L1035.7,173.3 L1036.4,174.0 L1037.1,174.6 L1037.9,175.3 L1038.6,176.0 L1039.3,176.6 L1040.0,177.3 L1040.8,178.0 L1041.5,178.6 L1042.2,179.3 L1042.9,179.9 L1043.7,180.6 L1044.4,181.2 L1045.2,181.9 L1045.9,182.5 L1046.7,183.2 L1047.4,183.8 L1048.2,184.4 L1048.9,185.1 L1049.7,185.7 L1050.4,186.3 L1051.2,186.9 L1052.0,187.5 L1052.7,188.2 L1053.5,188.8 L1054.3,189.4 L1055.0,190.0 L1055.8,190.6 L1056.6,191.2 L1057.4,191.8 L1058.1,192.4 L1058.9,193.0 L1059.7,193.6 L1060.5,194.1 L1061.3,194.7 L1062.1,195.3 L1062.9,195.9 L1063.7,196.5 L1064.5,197.0 L1065.3,197.6 L1066.1,198.2 L1066.9,198.7 L1067.7,199.3 L1068.5,199.8 L1069.3,200.4 L1070.1,200.9 L1070.9,201.5 L1071.7,202.0 L1072.6,202.6 L1073.4,203.1 L1074.2,203.7 L1075.0,204.2 L1075.9,204.7 L1076.7,205.3 L1077.5,205.8 L1078.3,206.3 L1079.2,206.9 L1080.0,207.4 L1080.8,207.9 L1081.7,208.4 L1082.5,208.9 L1083.4,209.4 L1084.2,209.9 L1085.1,210.5 L1085.9,211.0 L1086.8,211.5 L1087.6,212.0 L1088.5,212.5 L1089.3,212.9 L1090.2,213.4 L1091.0,213.9 L1091.9,214.4 L1092.8,214.9 L1093.6,215.4 L1094.5,215.9 L1095.3,216.4 L1096.2,216.8 L1097.1,217.3 L1098.0,217.8 L1098.8,218.2 L1099.7,218.7 L1100.6,219.2 L1101.5,219.6 L1102.3,220.1 L1103.2,220.6 L1104.1,221.0 L1105.0,221.5 L1105.9,221.9 L1106.8,222.4 L1107.6,222.8 L1108.5,223.3 L1109.4,223.7 L1110.3,224.2 L1111.2,224.6 L1112.1,225.0 L1113.0,225.5 L1113.9,225.9 L1114.8,226.4 L1115.7,226.8 L1116.6,227.2 L1117.5,227.6 L1118.4,228.1 L1119.3,228.5 L1120.2,228.9 L1121.1,229.3 L1122.0,229.8 L1123.0,230.2 L1123.9,230.6 L1124.8,231.0 L1125.7,231.4 L1126.6,231.8 L1127.5,232.2 L1128.5,232.6 L1129.4,233.0 L1130.3,233.4 L1131.2,233.9 L1132.1,234.3 L1133.1,234.7 L1134.0,235.1 L1134.9,235.5 L1135.8,235.9 L1136.8,236.2 L1137.7,236.6 L1138.6,237.0 L1139.5,237.4 L1140.5,237.8 L1141.4,238.2 L1142.3,238.6 L1143.3,239.0 L1144.2,239.4 L1145.1,239.8 L1146.0,240.2 L1147.0,240.6 L1147.9,241.0 L1148.8,241.4 L1149.8,241.7 L1150.7,242.1 L1151.6,242.5 L1152.6,242.9 L1153.5,243.3 L1154.4,243.7 L1155.3,244.1 L1156.3,244.5 L1157.2,244.9 L1158.1,245.3 L1159.1,245.7 L1160.0,246.1 L1160.9,246.5 L1161.8,246.9 L1162.8,247.3 L1163.7,247.7 L1164.6,248.1 L1165.5,248.5 L1166.5,248.9 L1167.4,249.3 L1168.3,249.7 L1169.2,250.1 L1170.1,250.5 L1171.0,250.9 L1172.0,251.3 L1172.9,251.7 L1173.8,252.1 L1174.7,252.5 L1175.6,252.9 L1176.5,253.4 L1177.4,253.8 L1178.3,254.2 L1179.2,254.6 L1180.2,255.0 L1181.1,255.5 L1182.0,255.9 L1182.9,256.3 L1183.8,256.8 L1184.6,257.2 L1185.5,257.6 L1186.4,258.1 L1187.3,258.5 L1188.2,259.0 L1189.1,259.4 L1190.0,259.9 L1190.9,260.3 L1191.7,260.8 L1192.6,261.2 L1193.5,261.7 L1194.4,262.2 L1195.2,262.6 L1196.1,263.1 L1197.0,263.6 L1197.8,264.1 L1198.7,264.5 L1199.6,265.0 L1200.4,265.5 L1201.3,266.0 L1202.1,266.5 L1203.0,267.0 L1203.8,267.5 L1204.7,268.0 L1205.5,268.5 L1206.3,269.0 L1207.2,269.5 L1208.0,270.1 L1208.8,270.6 L1209.7,271.1 L1210.5,271.7 L1211.3,272.2 L1212.1,272.7 L1212.9,273.3 L1213.7,273.8 L1214.6,274.4 L1215.4,274.9 L1216.2,275.5 L1217.0,276.1 L1217.8,276.6 L1218.5,277.2 L1219.3,277.8 L1220.1,278.4 L1220.9,279.0 L1221.7,279.6 L1222.5,280.2 L1223.2,280.7 L1224.0,281.3 L1224.8,282.0 L1225.5,282.6 L1226.3,283.2 L1227.1,283.8 L1227.8,284.4 L1228.6,285.0 L1229.3,285.7 L1230.1,286.3 L1230.8,286.9 L1231.6,287.6 L1232.3,288.2 L1233.1,288.8 L1233.8,289.5 L1234.5,290.1 L1235.3,290.8 L1236.0,291.4 L1236.7,292.1 L1237.5,292.8 L1238.2,293.4 L1238.9,294.1 L1239.6,294.8 L1240.3,295.4 L1241.0,296.1 L1241.8,296.8 L1242.5,297.5 L1243.2,298.2 L1243.9,298.9 L1244.6,299.6 L1245.3,300.3 L1246.0,301.0 L1246.7,301.7 L1247.4,302.4 L1248.0,303.1 L1248.7,303.8 L1249.4,304.5 L1250.1,305.2 L1250.8,305.9 L1251.5,306.6 L1252.2,307.4 L1252.8,308.1 L1253.5,308.8 L1254.2,309.5 L1254.8,310.3 L1255.5,311.0 L1256.2,311.7 L1256.8,312.5 L1257.5,313.2 L1258.2,313.9 L1258.8,314.7 L1259.5,315.4 L1260.1,316.2 L1260.8,316.9 L1261.5,317.7 L1262.1,318.4 L1262.8,319.2 L1263.4,320.0 L1264.0,320.7 L1264.7,321.5 L1265.3,322.2 L1266.0,323.0 L1266.6,323.8 L1267.3,324.5 L1267.9,325.3 L1268.5,326.1 L1269.2,326.9 L1269.8,327.6 L1270.4,328.4 L1271.1,329.2 L1271.7,330.0 L1272.3,330.8 L1272.9,331.5 L1273.6,332.3 L1274.2,333.1 L1274.8,333.9 L1275.4,334.7 L1276.0,335.5 L1276.7,336.3 L1277.3,337.1 L1277.9,337.9 L1278.5,338.7 L1279.1,339.4 L1279.7,340.2 L1280.3,341.0 L1280.9,341.8 L1281.6,342.6 L1282.2,343.4 L1282.8,344.2 L1283.4,345.0 L1284.0,345.9 L1284.6,346.7 L1285.2,347.5 L1285.8,348.3 L1286.4,349.1 L1287.0,349.9 L1287.6,350.7 L1288.2,351.5 L1288.8,352.3 L1289.4,353.1 L1290.0,353.9 L1290.6,354.7 L1291.2,355.6 L1291.8,356.4 L1292.4,357.2 L1293.0,358.0 L1293.5,358.8 L1294.1,359.6 L1294.7,360.4 L1295.3,361.3 L1295.9,362.1 L1296.5,362.9 L1297.1,363.7 L1297.7,364.5 L1298.3,365.3 L1298.8,366.1 L1299.4,367.0 L1300.0,367.8 L1300.6,368.6 L1301.2,369.4 L1301.8,370.2 L1302.4,371.0 L1302.9,371.9 L1303.5,372.7 L1304.1,373.5 L1304.7,374.3 L1305.3,375.1 L1305.9,375.9 L1306.5,376.7 L1307.0,377.6 L1307.6,378.4 L1308.2,379.2 L1308.8,380.0 L1309.4,380.8 L1309.9,381.6 L1310.5,382.4 L1311.1,383.2 L1311.7,384.0 L1312.3,384.9 L1312.9,385.7 L1313.4,386.5 L1314.0,387.3 L1314.6,388.1 L1315.2,388.9 L1315.8,389.7 L1316.4,390.5 L1316.9,391.3 L1317.5,392.1 L1318.1,392.9 L1318.7,393.7 L1319.3,394.5 L1319.9,395.3 L1320.4,396.1 L1321.0,396.9 L1321.6,397.7 L1322.2,398.5 L1322.8,399.3 L1323.4,400.1 L1323.9,400.9 L1324.5,401.7 L1325.1,402.5 L1325.7,403.3 L1326.3,404.1 L1326.9,404.9 L1327.4,405.7 L1328.0,406.5 L1328.6,407.3 L1329.2,408.1 L1329.8,408.9 L1330.4,409.7 L1330.9,410.5 L1331.5,411.3 L1332.1,412.1 L1332.7,412.9 L1333.3,413.7 L1333.9,414.5 L1334.5,415.3 L1335.1,416.1 L1335.6,416.9 L1336.2,417.7 L1336.8,418.5 L1337.4,419.3 L1338.0,420.1 L1338.6,420.9 L1339.2,421.7 L1339.8,422.5 L1340.3,423.2 L1340.9,424.0 L1341.5,424.8 L1342.1,425.6 L1342.7,426.4 L1343.3,427.2 L1343.9,428.0 L1344.5,428.8 L1345.1,429.6 L1345.7,430.4 L1346.3,431.2 L1346.9,432.0 L1347.5,432.7 L1348.0,433.5 L1348.6,434.3 L1349.2,435.1 L1349.8,435.9 L1350.4,436.7 L1351.0,437.5 L1351.6,438.3 L1352.2,439.1 L1352.8,439.9 L1353.4,440.7 L1354.0,441.4 L1354.6,442.2 L1355.2,443.0 L1355.8,443.8 L1356.4,444.6 L1357.0,445.4 L1357.6,446.2 L1358.2,447.0 L1358.8,447.8 L1359.4,448.6 L1360.0,449.3 L1360.6,450.1 L1361.2,450.9 L1361.9,451.7 L1362.5,452.5 L1363.1,453.3 L1363.7,454.1 L1364.3,454.9 L1364.9,455.7 L1365.5,456.4 L1366.1,457.2 L1366.7,458.0 L1367.3,458.8 L1368.0,459.6 L1368.6,460.4 L1369.2,461.2 L1369.8,462.0 L1370.4,462.8 L1371.0,463.6 L1371.6,464.3 L1372.3,465.1 L1372.9,465.9 L1373.5,466.7 L1374.1,467.5 L1374.7,468.3 L1375.4,469.1 L1376.0,469.9 L1376.6,470.6 L1377.2,471.4 L1377.9,472.2 L1378.5,473.0 L1379.1,473.8 L1379.8,474.6 L1380.4,475.3 L1381.0,476.1 L1381.7,476.9 L1382.3,477.7 L1382.9,478.5 L1383.6,479.2 L1384.2,480.0 L1384.8,480.8 L1385.5,481.6 L1386.1,482.3 L1386.8,483.1 L1387.4,483.9 L1388.1,484.6 L1388.7,485.4 L1389.4,486.2 L1390.0,486.9 L1390.7,487.7 L1391.3,488.4 L1392.0,489.2 L1392.6,490.0 L1393.3,490.7 L1394.0,491.5 L1394.6,492.2 L1395.3,493.0 L1395.9,493.7 L1396.6,494.5 L1397.3,495.2 L1398.0,495.9 L1398.6,496.7 L1399.3,497.4 L1400.0,498.1 L1400.7,498.9 L1401.3,499.6 L1402.0,500.3 L1402.7,501.1 L1403.4,501.8 L1404.1,502.5 L1404.8,503.2 L1405.5,503.9 L1406.2,504.6 L1406.9,505.4 L1407.6,506.1 L1408.3,506.8 L1409.0,507.5 L1409.7,508.2 L1410.4,508.9 L1411.1,509.5 L1411.8,510.2 L1412.5,510.9 L1413.2,511.6 L1414.0,512.3 L1414.7,513.0 L1415.4,513.6 L1416.1,514.3 L1416.9,515.0 L1417.6,515.6 L1418.3,516.3 L1419.1,517.0 L1419.8,517.6 L1420.5,518.3 L1421.3,518.9 L1422.0,519.5 L1422.8,520.2 L1423.5,520.8 L1424.3,521.4 L1425.1,522.1 L1425.8,522.7 L1426.6,523.3 L1427.3,523.9 L1428.1,524.5 L1428.9,525.2 L1429.7,525.8 L1430.4,526.4 L1431.2,527.0 L1432.0,527.5 L1432.8,528.1 L1433.6,528.7 L1434.4,529.3 L1435.2,529.9 L1436.0,530.4 L1436.8,531.0 L1437.6,531.6 L1438.4,532.1 L1439.2,532.7 L1440.0,533.2 L1440.8,533.8 L1441.6,534.3 L1442.5,534.8 L1443.3,535.3 L1444.1,535.9 L1445.0,536.4 L1445.8,536.9 L1446.6,537.4 L1447.5,537.9 L1448.3,538.4 L1449.2,538.9 L1450.0,539.4 L1450.9,539.8 L1451.8,540.3 L1452.6,540.8 L1453.5,541.2 L1454.4,541.7 L1455.2,542.2 L1456.1,542.6 L1457.0,543.0 L1457.9,543.5 L1458.8,543.9 L1459.7,544.3 L1460.6,544.7 L1461.5,545.1 L1462.4,545.5 L1463.3,545.9 L1464.2,546.3 L1465.1,546.7 L1466.1,547.1 L1467.0,547.4 L1467.9,547.8 L1468.9,548.1 L1469.8,548.5 L1470.8,548.8 L1471.7,549.2 L1472.7,549.5 L1473.6,549.8 L1474.6,550.1 L1475.5,550.4 L1476.5,550.7 L1477.5,551.0" stroke="#00FF00" stroke-width="9" fill="none" stroke-linejoin="round" stroke-dasharray="26 23"/>
<path d="M919.1,30.4 L919.1,30.4 L919.9,30.9 L920.6,31.4 L921.3,31.9 L922.1,32.4 L922.8,32.9 L923.6,33.4 L924.3,33.9 L925.0,34.4 L925.8,34.9 L926.5,35.4 L927.2,36.0 L928.0,36.5 L928.7,37.0 L929.4,37.5 L930.1,38.1 L930.8,38.6 L931.6,39.1 L932.3,39.7 L933.0,40.2 L933.7,40.8 L934.4,41.3 L935.1,41.9 L935.8,42.4 L936.5,43.0 L937.2,43.5 L937.9,44.1 L938.6,44.6 L939.3,45.2 L940.0,45.8 L940.7,46.3 L941.4,46.9 L942.1,47.5 L942.8,48.0 L943.5,48.6 L944.1,49.2 L944.8,49.8 L945.5,50.4 L946.2,50.9 L946.9,51.5 L947.5,52.1 L948.2,52.7 L948.9,53.3 L949.6,53.9 L950.2,54.5 L950.9,55.1 L951.6,55.7 L952.2,56.3 L952.9,56.9 L953.6,57.5 L954.2,58.1 L954.9,58.7 L955.6,59.3 L956.2,59.9 L956.9,60.5 L957.5,61.2 L958.2,61.8 L958.8,62.4 L959.5,63.0 L960.1,63.6 L960.8,64.3 L961.4,64.9 L962.1,65.5 L962.7,66.1 L963.4,66.8 L964.0,67.4 L964.7,68.0 L965.3,68.7 L966.0,69.3 L966.6,69.9 L967.2,70.6 L967.9,71.2 L968.5,71.8 L969.1,72.5 L969.8,73.1 L970.4,73.8 L971.1,74.4 L971.7,75.1 L972.3,75.7 L972.9,76.3 L973.6,77.0 L974.2,77.6 L974.8,78.3 L975.5,78.9 L976.1,79.6 L976.7,80.2 L977.3,80.9 L978.0,81.6 L978.6,82.2 L979.2,82.9 L979.8,83.5 L980.5,84.2 L981.1,84.8 L981.7,85.5 L982.3,86.2 L983.0,86.8 L983.6,87.5 L984.2,88.1 L984.8,88.8 L985.4,89.5 L986.1,90.1 L986.7,90.8 L987.3,91.5 L987.9,92.1 L988.5,92.8 L989.1,93.5 L989.8,94.1 L990.4,94.8 L991.0,95.4 L991.6,96.1 L992.2,96.8 L992.8,97.4 L993.5,98.1 L994.1,98.8 L994.7,99.5 L995.3,100.1 L995.9,100.8 L996.5,101.5 L997.1,102.1 L997.8,102.8 L998.4,103.5 L999.0,104.1 L999.6,104.8 L1000.2,105.5 L1000.8,106.1 L1001.4,106.8 L1002.0,107.5 L1002.7,108.1 L1003.3,108.8 L1003.9,109.5 L1004.5,110.1 L1005.1,110.8 L1005.7,111.5 L1006.3,112.1 L1007.0,112.8 L1007.6,113.5 L1008.2,114.1 L1008.8,114.8 L1009.4,115.5 L1010.0,116.1 L1010.6,116.8 L1011.3,117.5 L1011.9,118.1 L1012.5,118.8 L1013.1,119.5 L1013.7,120.1 L1014.4,120.8 L1015.0,121.4 L1015.6,122.1 L1016.2,122.8 L1016.8,123.4 L1017.4,124.1 L1018.1,124.7 L1018.7,125.4 L1019.3,126.0 L1019.9,126.7 L1020.6,127.4 L1021.2,128.0 L1021.8,128.7 L1022.4,129.3 L1023.1,130.0 L1023.7,130.6 L1024.3,131.3 L1024.9,131.9 L1025.6,132.5 L1026.2,133.2 L1026.8,133.8 L1027.4,134.5 L1028.1,135.1 L1028.7,135.8 L1029.3,136.4 L1030.0,137.0 L1030.6,137.7 L1031.2,138.3 L1031.9,138.9 L1032.5,139.6 L1033.2,140.2 L1033.8,140.8 L1034.4,141.5 L1035.1,142.1 L1035.7,142.7 L1036.4,143.4 L1037.0,144.0 L1037.6,144.6 L1038.3,145.2 L1038.9,145.8 L1039.6,146.5 L1040.2,147.1 L1040.9,147.7 L1041.5,148.3 L1042.2,148.9 L1042.8,149.5 L1043.5,150.1 L1044.2,150.7 L1044.8,151.3 L1045.5,151.9 L1046.1,152.5 L1046.8,153.1 L1047.5,153.7 L1048.1,154.3 L1048.8,154.9 L1049.5,155.5 L1050.1,156.1 L1050.8,156.7 L1051.5,157.3 L1052.1,157.8 L1052.8,158.4 L1053.5,159.0 L1054.2,159.6 L1054.8,160.2 L1055.5,160.7 L1056.2,161.3 L1056.9,161.9 L1057.6,162.4 L1058.3,163.0 L1058.9,163.6 L1059.6,164.1 L1060.3,164.7 L1061.0,165.2 L1061.7,165.8 L1062.4,166.3 L1063.1,166.9 L1063.8,167.4 L1064.5,168.0 L1065.2,168.5 L1065.9,169.0 L1066.6,169.6 L1067.3,170.1 L1068.0,170.6 L1068.8,171.2 L1069.5,171.7 L1070.2,172.2 L1070.9,172.7 L1071.6,173.2 L1072.4,173.7 L1073.1,174.3 L1073.8,174.8 L1074.5,175.3 L1075.3,175.8 L1076.0,176.3 L1076.7,176.8 L1077.5,177.3 L1078.2,177.7 L1078.9,178.2 L1079.7,178.7 L1080.4,179.2 L1081.2,179.7 L1081.9,180.1 L1082.7,180.6 L1083.4,181.1 L1084.2,181.6 L1085.0,182.0 L1085.7,182.5 L1086.5,182.9 L1087.2,183.4 L1088.0,183.9 L1088.8,184.3 L1089.5,184.8 L1090.3,185.2 L1091.1,185.6 L1091.9,186.1 L1092.6,186.5 L1093.4,187.0 L1094.2,187.4 L1095.0,187.8 L1095.7,188.3 L1096.5,188.7 L1097.3,189.1 L1098.1,189.5 L1098.9,189.9 L1099.7,190.4 L1100.5,190.8 L1101.3,191.2 L1102.1,191.6 L1102.9,192.0 L1103.7,192.4 L1104.5,192.8 L1105.3,193.2 L1106.1,193.6 L1106.9,194.0 L1107.7,194.4 L1108.5,194.8 L1109.3,195.2 L1110.1,195.6 L1110.9,196.0 L1111.7,196.4 L1112.5,196.8 L1113.3,197.2 L1114.1,197.6 L1115.0,198.0 L1115.8,198.3 L1116.6,198.7 L1117.4,199.1 L1118.2,199.5 L1119.0,199.9 L1119.9,200.2 L1120.7,200.6 L1121.5,201.0 L1122.3,201.4 L1123.2,201.7 L1124.0,202.1 L1124.8,202.5 L1125.6,202.8 L1126.5,203.2 L1127.3,203.6 L1128.1,203.9 L1129.0,204.3 L1129.8,204.7 L1130.6,205.0 L1131.4,205.4 L1132.3,205.7 L1133.1,206.1 L1133.9,206.5 L1134.8,206.8 L1135.6,207.2 L1136.5,207.5 L1137.3,207.9 L1138.1,208.2 L1139.0,208.6 L1139.8,208.9 L1140.6,209.3 L1141.5,209.6 L1142.3,210.0 L1143.1,210.4 L1144.0,210.7 L1144.8,211.1 L1145.7,211.4 L1146.5,211.8 L1147.3,212.1 L1148.2,212.5 L1149.0,212.8 L1149.9,213.2 L1150.7,213.5 L1151.5,213.9 L1152.4,214.2 L1153.2,214.6 L1154.1,214.9 L1154.9,215.3 L1155.7,215.6 L1156.6,215.9 L1157.4,216.3 L1158.3,216.6 L1159.1,217.0 L1159.9,217.3 L1160.8,217.7 L1161.6,218.0 L1162.5,218.4 L1163.3,218.8 L1164.1,219.1 L1165.0,219.5 L1165.8,219.8 L1166.7,220.2 L1167.5,220.5 L1168.3,220.9 L1169.2,221.2 L1170.0,221.6 L1170.8,221.9 L1171.7,222.3 L1172.5,222.6 L1173.3,223.0 L1174.2,223.4 L1175.0,223.7 L1175.8,224.1 L1176.7,224.4 L1177.5,224.8 L1178.3,225.2 L1179.2,225.5 L1180.0,225.9 L1180.8,226.3 L1181.7,226.6 L1182.5,227.0 L1183.3,227.4 L1184.1,227.7 L1185.0,228.1 L1185.8,228.5 L1186.6,228.9 L1187.4,229.2 L1188.2,229.6 L1189.1,230.0 L1189.9,230.4 L1190.7,230.7 L1191.5,231.1 L1192.3,231.5 L1193.2,231.9 L1194.0,232.3 L1194.8,232.7 L1195.6,233.1 L1196.4,233.5 L1197.2,233.8 L1198.0,234.2 L1198.8,234.6 L1199.6,235.0 L1200.4,235.4 L1201.2,235.8 L1202.0,236.2 L1202.8,236.6 L1203.6,237.1 L1204.4,237.5 L1205.2,237.9 L1206.0,238.3 L1206.8,238.7 L1207.6,239.1 L1208.4,239.5 L1209.2,240.0 L1210.0,240.4 L1210.8,240.8 L1211.6,241.2 L1212.3,241.7 L1213.1,242.1 L1213.9,242.5 L1214.7,243.0 L1215.4,243.4 L1216.2,243.9 L1217.0,244.3 L1217.8,244.7 L1218.5,245.2 L1219.3,245.6 L1220.1,246.1 L1220.8,246.6 L1221.6,247.0 L1222.4,247.5 L1223.1,247.9 L1223.9,248.4 L1224.6,248.9 L1225.4,249.3 L1226.2,249.8 L1226.9,250.3 L1227.7,250.7 L1228.4,251.2 L1229.2,251.7 L1229.9,252.2 L1230.7,252.7 L1231.4,253.1 L1232.1,253.6 L1232.9,254.1 L1233.6,254.6 L1234.4,255.1 L1235.1,255.6 L1235.8,256.1 L1236.6,256.6 L1237.3,257.1 L1238.0,257.6 L1238.8,258.1 L1239.5,258.6 L1240.2,259.1 L1241.0,259.6 L1241.7,260.1 L1242.4,260.6 L1243.1,261.1 L1243.9,261.7 L1244.6,262.2 L1245.3,262.7 L1246.0,263.2 L1246.7,263.7 L1247.4,264.3 L1248.2,264.8 L1248.9,265.3 L1249.6,265.9 L1250.3,266.4 L1251.0,266.9 L1251.7,267.5 L1252.4,268.0 L1253.1,268.5 L1253.8,269.1 L1254.5,269.6 L1255.2,270.2 L1255.9,270.7 L1256.6,271.2 L1257.3,271.8 L1258.0,272.3 L1258.7,272.9 L1259.4,273.4 L1260.1,274.0 L1260.8,274.6 L1261.5,275.1 L1262.2,275.7 L1262.9,276.2 L1263.6,276.8 L1264.3,277.4 L1265.0,277.9 L1265.6,278.5 L1266.3,279.1 L1267.0,279.6 L1267.7,280.2 L1268.4,280.8 L1269.1,281.3 L1269.7,281.9 L1270.4,282.5 L1271.1,283.1 L1271.8,283.7 L1272.4,284.2 L1273.1,284.8 L1273.8,285.4 L1274.5,286.0 L1275.1,286.6 L1275.8,287.2 L1276.5,287.7 L1277.2,288.3 L1277.8,288.9 L1278.5,289.5 L1279.2,290.1 L1279.8,290.7 L1280.5,291.3 L1281.2,291.9 L1281.8,292.5 L1282.5,293.1 L1283.2,293.7 L1283.8,294.3 L1284.5,294.9 L1285.1,295.5 L1285.8,296.1 L1286.5,296.7 L1287.1,297.3 L1287.8,297.9 L1288.4,298.5 L1289.1,299.1 L1289.7,299.7 L1290.4,300.4 L1291.0,301.0 L1291.7,301.6 L1292.4,302.2 L1293.0,302.8 L1293.7,303.4 L1294.3,304.0 L1295.0,304.7 L1295.6,305.3 L1296.3,305.9 L1296.9,306.5 L1297.5,307.2 L1298.2,307.8 L1298.8,308.4 L1299.5,309.0 L1300.1,309.7 L1300.8,310.3 L1301.4,310.9 L1302.1,311.5 L1302.7,312.2 L1303.3,312.8 L1304.0,313.4 L1304.6,314.1 L1305.3,314.7 L1305.9,315.3 L1306.5,316.0 L1307.2,316.6 L1307.8,317.2 L1308.5,317.9 L1309.1,318.5 L1309.7,319.1 L1310.4,319.8 L1311.0,320.4 L1311.6,321.1 L1312.3,321.7 L1312.9,322.3 L1313.5,323.0 L1314.2,323.6 L1314.8,324.3 L1315.4,324.9 L1316.1,325.5 L1316.7,326.2 L1317.3,326.8 L1318.0,327.5 L1318.6,328.1 L1319.2,328.8 L1319.9,329.4 L1320.5,330.1 L1321.1,330.7 L1321.7,331.4 L1322.4,332.0 L1323.0,332.7 L1323.6,333.3 L1324.3,334.0 L1324.9,334.6 L1325.5,335.3 L1326.1,335.9 L1326.8,336.6 L1327.4,337.2 L1328.0,337.9 L1328.7,338.5 L1329.3,339.2 L1329.9,339.8 L1330.5,340.5 L1331.2,341.1 L1331.8,341.8 L1332.4,342.4 L1333.0,343.1 L1333.7,343.7 L1334.3,344.4 L1334.9,345.1 L1335.5,345.7 L1336.2,346.4 L1336.8,347.0 L1337.4,347.7 L1338.0,348.3 L1338.7,349.0 L1339.3,349.7 L1339.9,350.3 L1340.5,351.0 L1341.1,351.6 L1341.8,352.3 L1342.4,352.9 L1343.0,353.6 L1343.6,354.3 L1344.3,354.9 L1344.9,355.6 L1345.5,356.2 L1346.1,356.9 L1346.8,357.5 L1347.4,358.2 L1348.0,358.9 L1348.6,359.5 L1349.3,360.2 L1349.9,360.8 L1350.5,361.5 L1351.1,362.1 L1351.8,362.8 L1352.4,363.5 L1353.0,364.1 L1353.6,364.8 L1354.2,365.4 L1354.9,366.1 L1355.5,366.7 L1356.1,367.4 L1356.7,368.1 L1357.4,368.7 L1358.0,369.4 L1358.6,370.0 L1359.2,370.7 L1359.9,371.3 L1360.5,372.0 L1361.1,372.6 L1361.8,373.3 L1362.4,374.0 L1363.0,374.6 L1363.6,375.3 L1364.3,375.9 L1364.9,376.6 L1365.5,377.2 L1366.1,377.9 L1366.8,378.5 L1367.4,379.2 L1368.0,379.8 L1368.7,380.5 L1369.3,381.1 L1369.9,381.8 L1370.6,382.4 L1371.2,383.1 L1371.8,383.7 L1372.4,384.4 L1373.1,385.0 L1373.7,385.7 L1374.3,386.3 L1375.0,387.0 L1375.6,387.6 L1376.2,388.3 L1376.9,388.9 L1377.5,389.5 L1378.1,390.2 L1378.8,390.8 L1379.4,391.5 L1380.1,392.1 L1380.7,392.8 L1381.3,393.4 L1382.0,394.0 L1382.6,394.7 L1383.2,395.3 L1383.9,395.9 L1384.5,396.6 L1385.2,397.2 L1385.8,397.9 L1386.4,398.5 L1387.1,399.1 L1387.7,399.8 L1388.4,400.4 L1389.0,401.0 L1389.7,401.7 L1390.3,402.3 L1390.9,402.9 L1391.6,403.6 L1392.2,404.2 L1392.9,404.8 L1393.5,405.4 L1394.2,406.1 L1394.8,406.7 L1395.5,407.3 L1396.1,407.9 L1396.8,408.6 L1397.4,409.2 L1398.1,409.8 L1398.7,410.4 L1399.4,411.0 L1400.1,411.7 L1400.7,412.3 L1401.4,412.9 L1402.0,413.5 L1402.7,414.1 L1403.3,414.7 L1404.0,415.3 L1404.7,416.0 L1405.3,416.6 L1406.0,417.2 L1406.6,417.8 L1407.3,418.4 L1408.0,419.0 L1408.6,419.6 L1409.3,420.2 L1410.0,420.8 L1410.6,421.4 L1411.3,422.0 L1412.0,422.6 L1412.6,423.2 L1413.3,423.8 L1414.0,424.4 L1414.6,425.0 L1415.3,425.6 L1416.0,426.2 L1416.7,426.8 L1417.3,427.3 L1418.0,427.9 L1418.7,428.5 L1419.4,429.1 L1420.1,429.7 L1420.7,430.3 L1421.4,430.9 L1422.1,431.4 L1422.8,432.0 L1423.5,432.6 L1424.2,433.2 L1424.8,433.7 L1425.5,434.3 L1426.2,434.9 L1426.9,435.5 L1427.6,436.0 L1428.3,436.6 L1429.0,437.2 L1429.7,437.7 L1430.4,438.3 L1431.1,438.9 L1431.8,439.4 L1432.5,440.0 L1433.2,440.5 L1433.9,441.1 L1434.6,441.6 L1435.3,442.2 L1436.0,442.7 L1436.7,443.3 L1437.4,443.8 L1438.1,444.4 L1438.8,444.9 L1439.5,445.5 L1440.2,446.0 L1440.9,446.6 L1441.7,447.1 L1442.4,447.6 L1443.1,448.2 L1443.8,448.7 L1444.5,449.2 L1445.2,449.8 L1446.0,450.3 L1446.7,450.8 L1447.4,451.3 L1448.1,451.9 L1448.9,452.4 L1449.6,452.9 L1450.3,453.4 L1451.0,453.9 L1451.8,454.5 L1452.5,455.0 L1453.2,455.5 L1454.0,456.0 L1454.7,456.5 L1455.5,457.0 L1456.2,457.5 L1456.9,458.0 L1457.7,458.5 L1458.4,459.0 L1459.2,459.5 L1459.9,460.0 L1460.7,460.5 L1461.4,461.0 L1462.2,461.5 L1462.9,462.0 L1463.7,462.4 L1464.4,462.9 L1465.2,463.4 L1465.9,463.9 L1466.7,464.4 L1467.5,464.8 L1468.2,465.3 L1469.0,465.8 L1469.8,466.2 L1470.5,466.7 L1471.3,467.2 L1472.1,467.6 L1472.8,468.1 L1473.6,468.5 L1474.4,469.0 L1475.2,469.5 L1475.9,469.9 L1476.7,470.3 L1477.5,470.8" stroke="#00FF00" stroke-width="9" fill="none" stroke-linejoin="round"/>
<g font-family="Liberation Sans" style="font-kerning:none"><g transform="translate(128.00,0) scale(0.965,1) translate(-128.00,0)"><text transform="translate(116.65,1094.60) scale(1.0,1.0)" x="-11.35" y="0" font-size="40.8" fill="#262626" stroke="#262626" stroke-width="0.8">0</text></g><g transform="translate(146.50,0) scale(0.965,1) translate(-146.50,0)"><text transform="translate(146.50,1137.30) scale(1.0,1.0)" x="-11.35" y="0" font-size="40.8" fill="#262626" stroke="#262626" stroke-width="0.8">0</text></g><g transform="translate(128.00,0) scale(0.965,1) translate(-128.00,0)"><text transform="translate(82.63,989.71) scale(1.0,1.0)" x="-11.35" y="0" font-size="40.8" fill="#262626" stroke="#262626" stroke-width="0.8">0</text><text transform="translate(99.64,989.71) scale(1.0,1.0)" x="-5.67" y="0" font-size="40.8" fill="#262626" stroke="#262626" stroke-width="0.8">.</text><path d="M120.51,989.71 L120.51,961.64 L118.06,961.64 L117.14,963.36 L115.51,965.20 L113.06,967.05 L109.76,968.77 L109.76,972.11 L111.43,971.44 L113.47,970.42 L115.51,969.16 L116.94,968.07 L116.94,989.71Z" fill="#262626" stroke="#262626" stroke-width="0.8"/></g><g transform="translate(279.49,0) scale(0.965,1) translate(-279.49,0)"><text transform="translate(262.48,1137.30) scale(1.0,1.0)" x="-11.35" y="0" font-size="40.8" fill="#262626" stroke="#262626" stroke-width="0.8">0</text><text transform="translate(279.49,1137.30) scale(1.0,1.0)" x="-5.67" y="0" font-size="40.8" fill="#262626" stroke="#262626" stroke-width="0.8">.</text><path d="M300.36,1137.30 L300.36,1109.23 L297.91,1109.23 L296.99,1110.95 L295.36,1112.79 L292.91,1114.64 L289.60,1116.36 L289.60,1119.70 L291.28,1119.03 L293.32,1118.01 L295.36,1116.75 L296.79,1115.66 L296.79,1137.30Z" fill="#262626" stroke="#262626" stroke-width="0.8"/></g><g transform="translate(128.00,0) scale(0.965,1) translate(-128.00,0)"><text transform="translate(82.63,884.82) scale(1.0,1.0)" x="-11.35" y="0" font-size="40.8" fill="#262626" stroke="#262626" stroke-width="0.8">0</text><text transform="translate(99.64,884.82) scale(1.0,1.0)" x="-5.67" y="0" font-size="40.8" fill="#262626" stroke="#262626" stroke-width="0.8">.</text><text transform="translate(116.65,884.82) scale(1.0,1.0)" x="-11.35" y="0" font-size="40.8" fill="#262626" stroke="#262626" stroke-width="0.8">2</text></g><g transform="translate(412.48,0) scale(0.965,1) translate(-412.48,0)"><text transform="translate(395.47,1137.30) scale(1.0,1.0)" x="-11.35" y="0" font-size="40.8" fill="#262626" stroke="#262626" stroke-width="0.8">0</text><text transform="translate(412.48,1137.30) scale(1.0,1.0)" x="-5.67" y="0" font-size="40.8" fill="#262626" stroke="#262626" stroke-width="0.8">.</text><text transform="translate(429.49,1137.30) scale(1.0,1.0)" x="-11.35" y="0" font-size="40.8" fill="#262626" stroke="#262626" stroke-width="0.8">2</text></g><g transform="translate(128.00,0) scale(0.965,1) translate(-128.00,0)"><text transform="translate(82.63,779.93) scale(1.0,1.0)" x="-11.35" y="0" font-size="40.8" fill="#262626" stroke="#262626" stroke-width="0.8">0</text><text transform="translate(99.64,779.93) scale(1.0,1.0)" x="-5.67" y="0" font-size="40.8" fill="#262626" stroke="#262626" stroke-width="0.8">.</text><text transform="translate(116.65,779.93) scale(1.0,1.0)" x="-11.35" y="0" font-size="40.8" fill="#262626" stroke="#262626" stroke-width="0.8">3</text></g><g transform="translate(545.47,0) scale(0.965,1) translate(-545.47,0)"><text transform="translate(528.46,1137.30) scale(1.0,1.0)" x="-11.35" y="0" font-size="40.8" fill="#262626" stroke="#262626" stroke-width="0.8">0</text><text transform="translate(545.47,1137.30) scale(1.0,1.0)" x="-5.67" y="0" font-size="40.8" fill="#262626" stroke="#262626" stroke-width="0.8">.</text><text transform="translate(562.48,1137.30) scale(1.0,1.0)" x="-11.35" y="0" font-size="40.8" fill="#262626" stroke="#262626" stroke-width="0.8">3</text></g><g transform="translate(128.00,0) scale(0.965,1) translate(-128.00,0)"><text transform="translate(82.63,675.04) scale(1.0,1.0)" x="-11.35" y="0" font-size="40.8" fill="#262626" stroke="#262626" stroke-width="0.8">0</text><text transform="translate(99.64,675.04) scale(1.0,1.0)" x="-5.67" y="0" font-size="40.8" fill="#262626" stroke="#262626" stroke-width="0.8">.</text><text transform="translate(116.65,675.04) scale(1.0,1.0)" x="-11.35" y="0" font-size="40.8" fill="#262626" stroke="#262626" stroke-width="0.8">4</text></g><g transform="translate(678.46,0) scale(0.965,1) translate(-678.46,0)"><text transform="translate(661.45,1137.30) scale(1.0,1.0)" x="-11.35" y="0" font-size="40.8" fill="#262626" stroke="#262626" stroke-width="0.8">0</text><text transform="translate(678.46,1137.30) scale(1.0,1.0)" x="-5.67" y="0" font-size="40.8" fill="#262626" stroke="#262626" stroke-width="0.8">.</text><text transform="translate(695.47,1137.30) scale(1.0,1.0)" x="-11.35" y="0" font-size="40.8" fill="#262626" stroke="#262626" stroke-width="0.8">4</text></g><g transform="translate(128.00,0) scale(0.965,1) translate(-128.00,0)"><text transform="translate(82.63,570.15) scale(1.0,1.0)" x="-11.35" y="0" font-size="40.8" fill="#262626" stroke="#262626" stroke-width="0.8">0</text><text transform="translate(99.64,570.15) scale(1.0,1.0)" x="-5.67" y="0" font-size="40.8" fill="#262626" stroke="#262626" stroke-width="0.8">.</text><text transform="translate(116.65,570.15) scale(1.0,1.0)" x="-11.35" y="0" font-size="40.8" fill="#262626" stroke="#262626" stroke-width="0.8">5</text></g><g transform="translate(811.45,0) scale(0.965,1) translate(-811.45,0)"><text transform="translate(794.44,1137.30) scale(1.0,1.0)" x="-11.35" y="0" font-size="40.8" fill="#262626" stroke="#262626" stroke-width="0.8">0</text><text transform="translate(811.45,1137.30) scale(1.0,1.0)" x="-5.67" y="0" font-size="40.8" fill="#262626" stroke="#262626" stroke-width="0.8">.</text><text transform="translate(828.46,1137.30) scale(1.0,1.0)" x="-11.35" y="0" font-size="40.8" fill="#262626" stroke="#262626" stroke-width="0.8">5</text></g><g transform="translate(128.00,0) scale(0.965,1) translate(-128.00,0)"><text transform="translate(82.63,465.26) scale(1.0,1.0)" x="-11.35" y="0" font-size="40.8" fill="#262626" stroke="#262626" stroke-width="0.8">0</text><text transform="translate(99.64,465.26) scale(1.0,1.0)" x="-5.67" y="0" font-size="40.8" fill="#262626" stroke="#262626" stroke-width="0.8">.</text><text transform="translate(116.65,465.26) scale(1.0,1.0)" x="-11.35" y="0" font-size="40.8" fill="#262626" stroke="#262626" stroke-width="0.8">6</text></g><g transform="translate(944.44,0) scale(0.965,1) translate(-944.44,0)"><text transform="translate(927.43,1137.30) scale(1.0,1.0)" x="-11.35" y="0" font-size="40.8" fill="#262626" stroke="#262626" stroke-width="0.8">0</text><text transform="translate(944.44,1137.30) scale(1.0,1.0)" x="-5.67" y="0" font-size="40.8" fill="#262626" stroke="#262626" stroke-width="0.8">.</text><text transform="translate(961.45,1137.30) scale(1.0,1.0)" x="-11.35" y="0" font-size="40.8" fill="#262626" stroke="#262626" stroke-width="0.8">6</text></g><g transform="translate(128.00,0) scale(0.965,1) translate(-128.00,0)"><text transform="translate(82.63,360.37) scale(1.0,1.0)" x="-11.35" y="0" font-size="40.8" fill="#262626" stroke="#262626" stroke-width="0.8">0</text><text transform="translate(99.64,360.37) scale(1.0,1.0)" x="-5.67" y="0" font-size="40.8" fill="#262626" stroke="#262626" stroke-width="0.8">.</text><text transform="translate(116.65,360.37) scale(1.0,1.0)" x="-11.35" y="0" font-size="40.8" fill="#262626" stroke="#262626" stroke-width="0.8">7</text></g><g transform="translate(1077.43,0) scale(0.965,1) translate(-1077.43,0)"><text transform="translate(1060.42,1137.30) scale(1.0,1.0)" x="-11.35" y="0" font-size="40.8" fill="#262626" stroke="#262626" stroke-width="0.8">0</text><text transform="translate(1077.43,1137.30) scale(1.0,1.0)" x="-5.67" y="0" font-size="40.8" fill="#262626" stroke="#262626" stroke-width="0.8">.</text><text transform="translate(1094.44,1137.30) scale(1.0,1.0)" x="-11.35" y="0" font-size="40.8" fill="#262626" stroke="#262626" stroke-width="0.8">7</text></g><g transform="translate(128.00,0) scale(0.965,1) translate(-128.00,0)"><text transform="translate(82.63,255.48) scale(1.0,1.0)" x="-11.35" y="0" font-size="40.8" fill="#262626" stroke="#262626" stroke-width="0.8">0</text><text transform="translate(99.64,255.48) scale(1.0,1.0)" x="-5.67" y="0" font-size="40.8" fill="#262626" stroke="#262626" stroke-width="0.8">.</text><text transform="translate(116.65,255.48) scale(1.0,1.0)" x="-11.35" y="0" font-size="40.8" fill="#262626" stroke="#262626" stroke-width="0.8">8</text></g><g transform="translate(1210.42,0) scale(0.965,1) translate(-1210.42,0)"><text transform="translate(1193.41,1137.30) scale(1.0,1.0)" x="-11.35" y="0" font-size="40.8" fill="#262626" stroke="#262626" stroke-width="0.8">0</text><text transform="translate(1210.42,1137.30) scale(1.0,1.0)" x="-5.67" y="0" font-size="40.8" fill="#262626" stroke="#262626" stroke-width="0.8">.</text><text transform="translate(1227.43,1137.30) scale(1.0,1.0)" x="-11.35" y="0" font-size="40.8" fill="#262626" stroke="#262626" stroke-width="0.8">8</text></g><g transform="translate(128.00,0) scale(0.965,1) translate(-128.00,0)"><text transform="translate(82.63,150.59) scale(1.0,1.0)" x="-11.35" y="0" font-size="40.8" fill="#262626" stroke="#262626" stroke-width="0.8">0</text><text transform="translate(99.64,150.59) scale(1.0,1.0)" x="-5.67" y="0" font-size="40.8" fill="#262626" stroke="#262626" stroke-width="0.8">.</text><text transform="translate(116.65,150.59) scale(1.0,1.0)" x="-11.35" y="0" font-size="40.8" fill="#262626" stroke="#262626" stroke-width="0.8">9</text></g><g transform="translate(1343.41,0) scale(0.965,1) translate(-1343.41,0)"><text transform="translate(1326.40,1137.30) scale(1.0,1.0)" x="-11.35" y="0" font-size="40.8" fill="#262626" stroke="#262626" stroke-width="0.8">0</text><text transform="translate(1343.41,1137.30) scale(1.0,1.0)" x="-5.67" y="0" font-size="40.8" fill="#262626" stroke="#262626" stroke-width="0.8">.</text><text transform="translate(1360.42,1137.30) scale(1.0,1.0)" x="-11.35" y="0" font-size="40.8" fill="#262626" stroke="#262626" stroke-width="0.8">9</text></g><g transform="translate(128.00,0) scale(0.965,1) translate(-128.00,0)"><path d="M120.51,45.70 L120.51,17.63 L118.06,17.63 L117.14,19.35 L115.51,21.19 L113.06,23.04 L109.76,24.76 L109.76,28.10 L111.43,27.43 L113.47,26.41 L115.51,25.15 L116.94,24.06 L116.94,45.70Z" fill="#262626" stroke="#262626" stroke-width="0.8"/></g><g transform="translate(1476.40,0) scale(0.965,1) translate(-1476.40,0)"><path d="M1480.26,1137.30 L1480.26,1109.23 L1477.80,1109.23 L1476.89,1110.95 L1475.25,1112.79 L1472.81,1114.64 L1469.50,1116.36 L1469.50,1119.70 L1471.17,1119.03 L1473.21,1118.01 L1475.25,1116.75 L1476.68,1115.66 L1476.68,1137.30Z" fill="#262626" stroke="#262626" stroke-width="0.8"/></g><text transform="translate(764.10,1199.30) scale(1.0,1.0)" x="-16.61" y="0" font-size="46" fill="#262626" stroke="#262626" stroke-width="1.1">R</text><text transform="translate(793.50,1199.30) scale(1.0,0.981)" x="-12.79" y="0" font-size="46" fill="#262626" stroke="#262626" stroke-width="1.1">e</text><text transform="translate(817.79,1199.30) scale(1.0,0.981)" x="-11.50" y="0" font-size="46" fill="#262626" stroke="#262626" stroke-width="1.1">c</text><text transform="translate(842.08,1199.30) scale(1.0,0.981)" x="-12.79" y="0" font-size="46" fill="#262626" stroke="#262626" stroke-width="1.1">a</text><path d="M857.93,1199.30 L861.97,1199.30 L861.97,1167.65 L857.93,1167.65Z" fill="#262626" stroke="#262626" stroke-width="1.1"/><path d="M868.15,1199.30 L872.19,1199.30 L872.19,1167.65 L868.15,1167.65Z" fill="#262626" stroke="#262626" stroke-width="1.1"/><g transform="translate(47.6,555.4) rotate(-90)"><text transform="translate(-79.25,0.00) scale(1.0,1.0)" x="-15.34" y="0" font-size="46" fill="#262626" stroke="#262626" stroke-width="1.1">P</text><text transform="translate(-56.25,0.00) scale(1.0,0.981)" x="-7.66" y="0" font-size="46" fill="#262626" stroke="#262626" stroke-width="1.1">r</text><text transform="translate(-35.80,0.00) scale(1.0,0.981)" x="-12.79" y="0" font-size="46" fill="#262626" stroke="#262626" stroke-width="1.1">e</text><text transform="translate(-11.51,0.00) scale(1.0,0.981)" x="-11.50" y="0" font-size="46" fill="#262626" stroke="#262626" stroke-width="1.1">c</text><text transform="translate(5.10,0.00) scale(1.0,0.981)" x="-5.11" y="0" font-size="46" fill="#262626" stroke="#262626" stroke-width="1.1">i</text><text transform="translate(21.71,0.00) scale(1.0,0.981)" x="-11.50" y="0" font-size="46" fill="#262626" stroke="#262626" stroke-width="1.1">s</text><text transform="translate(38.32,0.00) scale(1.0,0.981)" x="-5.11" y="0" font-size="46" fill="#262626" stroke="#262626" stroke-width="1.1">i</text><text transform="translate(56.22,0.00) scale(1.0,0.981)" x="-12.79" y="0" font-size="46" fill="#262626" stroke="#262626" stroke-width="1.1">o</text><text transform="translate(81.80,0.00) scale(1.0,0.981)" x="-12.79" y="0" font-size="46" fill="#262626" stroke="#262626" stroke-width="1.1">n</text></g></g>
<path d="M278,26L281,26L284.2,33L282.8,35.1L280.8,35.1L278,30.5Z" fill="#FF0000"/>
<path d="M810,26L812.1,26L816.1,34.2L814,34.2Z" fill="#00FF00"/>
<rect x="422.8" y="518.7" width="270.8" height="364.5" fill="#fff" stroke="#262626" stroke-width="2.6"/>
<path d="M435,549.9H528" stroke="#0072BD" stroke-width="9" fill="none"/>
<g font-family="Liberation Sans" style="font-kerning:none"><text transform="translate(547.90,564.90) scale(1.0,1.0)" x="-11.30" y="0" font-size="37" fill="#000" stroke="#000" stroke-width="1.1">F</text><text transform="translate(569.49,564.90) scale(1.0,0.981)" x="-10.29" y="0" font-size="37" fill="#000" stroke="#000" stroke-width="1.1">a</text><text transform="translate(590.07,564.90) scale(1.0,0.95)" x="-10.29" y="0" font-size="37" fill="#000" stroke="#000" stroke-width="1.1">b</text><text transform="translate(615.77,564.90) scale(1.0,1.0)" x="-15.41" y="0" font-size="37" fill="#000" stroke="#000" stroke-width="1.1">M</text><text transform="translate(641.47,564.90) scale(1.0,0.981)" x="-10.29" y="0" font-size="37" fill="#000" stroke="#000" stroke-width="1.1">a</text><text transform="translate(662.04,564.90) scale(1.0,0.95)" x="-10.29" y="0" font-size="37" fill="#000" stroke="#000" stroke-width="1.1">p</text></g>
<path d="M435,600.4H528" stroke="#FF0000" stroke-width="9" fill="none" stroke-dasharray="26 23"/>
<g font-family="Liberation Sans" style="font-kerning:none"><text transform="translate(545.85,615.40) scale(1.0,0.981)" x="-9.25" y="0" font-size="37" fill="#000" stroke="#000" stroke-width="1.1">s</text><text transform="translate(565.39,615.40) scale(1.0,0.95)" x="-10.29" y="0" font-size="37" fill="#000" stroke="#000" stroke-width="1.1">p</text><text transform="translate(585.97,615.40) scale(1.0,0.95)" x="-10.29" y="0" font-size="37" fill="#000" stroke="#000" stroke-width="1.1">p</text><path d="M610.04,615.40 L610.04,589.94 L607.82,589.94 L606.99,591.51 L605.51,593.18 L603.29,594.85 L600.29,596.41 L600.29,599.43 L601.81,598.83 L603.66,597.91 L605.51,596.77 L606.80,595.77 L606.80,615.40Z" fill="#000" stroke="#000" stroke-width="1.1"/></g>
<path d="M435,650.9H528" stroke="#00FF00" stroke-width="9" fill="none" stroke-dasharray="26 23"/>
<g font-family="Liberation Sans" style="font-kerning:none"><text transform="translate(545.85,665.90) scale(1.0,0.981)" x="-9.25" y="0" font-size="37" fill="#000" stroke="#000" stroke-width="1.1">s</text><text transform="translate(565.39,665.90) scale(1.0,0.95)" x="-10.29" y="0" font-size="37" fill="#000" stroke="#000" stroke-width="1.1">p</text><text transform="translate(585.97,665.90) scale(1.0,0.95)" x="-10.29" y="0" font-size="37" fill="#000" stroke="#000" stroke-width="1.1">p</text><path d="M610.04,665.90 L610.04,640.44 L607.82,640.44 L606.99,642.01 L605.51,643.68 L603.29,645.35 L600.29,646.91 L600.29,649.93 L601.81,649.33 L603.66,648.41 L605.51,647.27 L606.80,646.27 L606.80,665.90Z" fill="#000" stroke="#000" stroke-width="1.1"/><text transform="translate(627.12,665.90) scale(1.0,1.0)" x="-10.29" y="0" font-size="37" fill="#000" stroke="#000" stroke-width="1.1">2</text></g>
<path d="M435,701.4H528" stroke="#000000" stroke-width="9" fill="none" stroke-dasharray="26 23"/>
<g font-family="Liberation Sans" style="font-kerning:none"><text transform="translate(545.85,716.40) scale(1.0,0.981)" x="-9.25" y="0" font-size="37" fill="#000" stroke="#000" stroke-width="1.1">s</text><text transform="translate(565.39,716.40) scale(1.0,0.95)" x="-10.29" y="0" font-size="37" fill="#000" stroke="#000" stroke-width="1.1">p</text><text transform="translate(585.97,716.40) scale(1.0,0.95)" x="-10.29" y="0" font-size="37" fill="#000" stroke="#000" stroke-width="1.1">p</text><path d="M610.04,716.40 L610.04,690.94 L607.82,690.94 L606.99,692.51 L605.51,694.18 L603.29,695.85 L600.29,697.41 L600.29,700.43 L601.81,699.83 L603.66,698.91 L605.51,697.77 L606.80,696.77 L606.80,716.40Z" fill="#000" stroke="#000" stroke-width="1.1"/><text transform="translate(627.12,716.40) scale(1.0,1.0)" x="-10.29" y="0" font-size="37" fill="#000" stroke="#000" stroke-width="1.1">2</text><text transform="translate(647.70,716.40) scale(1.0,1.0)" x="-10.29" y="0" font-size="37" fill="#000" stroke="#000" stroke-width="1.1">4</text></g>
<path d="M435,751.9H528" stroke="#FF0000" stroke-width="9" fill="none"/>
<g font-family="Liberation Sans" style="font-kerning:none"><text transform="translate(545.85,766.90) scale(1.0,0.981)" x="-9.25" y="0" font-size="37" fill="#000" stroke="#000" stroke-width="1.1">s</text><text transform="translate(565.39,766.90) scale(1.0,0.95)" x="-10.29" y="0" font-size="37" fill="#000" stroke="#000" stroke-width="1.1">p</text><text transform="translate(585.97,766.90) scale(1.0,0.95)" x="-10.29" y="0" font-size="37" fill="#000" stroke="#000" stroke-width="1.1">p</text><path d="M610.04,766.90 L610.04,741.44 L607.82,741.44 L606.99,743.01 L605.51,744.68 L603.29,746.35 L600.29,747.91 L600.29,750.93 L601.81,750.33 L603.66,749.41 L605.51,748.27 L606.80,747.27 L606.80,766.90Z" fill="#000" stroke="#000" stroke-width="1.1"/><text transform="translate(627.64,766.90) scale(1.0,1.0)" x="-10.80" y="0" font-size="37" fill="#000" stroke="#000" stroke-width="1.1">+</text></g>
<path d="M435,802.4H528" stroke="#00FF00" stroke-width="9" fill="none"/>
<g font-family="Liberation Sans" style="font-kerning:none"><text transform="translate(545.85,817.40) scale(1.0,0.981)" x="-9.25" y="0" font-size="37" fill="#000" stroke="#000" stroke-width="1.1">s</text><text transform="translate(565.39,817.40) scale(1.0,0.95)" x="-10.29" y="0" font-size="37" fill="#000" stroke="#000" stroke-width="1.1">p</text><text transform="translate(585.97,817.40) scale(1.0,0.95)" x="-10.29" y="0" font-size="37" fill="#000" stroke="#000" stroke-width="1.1">p</text><path d="M610.04,817.40 L610.04,791.94 L607.82,791.94 L606.99,793.51 L605.51,795.18 L603.29,796.85 L600.29,798.41 L600.29,801.43 L601.81,800.83 L603.66,799.91 L605.51,798.77 L606.80,797.77 L606.80,817.40Z" fill="#000" stroke="#000" stroke-width="1.1"/><text transform="translate(627.12,817.40) scale(1.0,1.0)" x="-10.29" y="0" font-size="37" fill="#000" stroke="#000" stroke-width="1.1">2</text><text transform="translate(648.21,817.40) scale(1.0,1.0)" x="-10.80" y="0" font-size="37" fill="#000" stroke="#000" stroke-width="1.1">+</text></g>
<path d="M435,852.9H528" stroke="#000000" stroke-width="9" fill="none"/>
<g font-family="Liberation Sans" style="font-kerning:none"><text transform="translate(545.85,867.90) scale(1.0,0.981)" x="-9.25" y="0" font-size="37" fill="#000" stroke="#000" stroke-width="1.1">s</text><text transform="translate(565.39,867.90) scale(1.0,0.95)" x="-10.29" y="0" font-size="37" fill="#000" stroke="#000" stroke-width="1.1">p</text><text transform="translate(585.97,867.90) scale(1.0,0.95)" x="-10.29" y="0" font-size="37" fill="#000" stroke="#000" stroke-width="1.1">p</text><path d="M610.04,867.90 L610.04,842.44 L607.82,842.44 L606.99,844.01 L605.51,845.68 L603.29,847.35 L600.29,848.91 L600.29,851.93 L601.81,851.33 L603.66,850.41 L605.51,849.27 L606.80,848.27 L606.80,867.90Z" fill="#000" stroke="#000" stroke-width="1.1"/><text transform="translate(627.12,867.90) scale(1.0,1.0)" x="-10.29" y="0" font-size="37" fill="#000" stroke="#000" stroke-width="1.1">2</text><text transform="translate(647.70,867.90) scale(1.0,1.0)" x="-10.29" y="0" font-size="37" fill="#000" stroke="#000" stroke-width="1.1">4</text><text transform="translate(668.79,867.90) scale(1.0,1.0)" x="-10.80" y="0" font-size="37" fill="#000" stroke="#000" stroke-width="1.1">+</text></g>
</svg>
</body></html>
